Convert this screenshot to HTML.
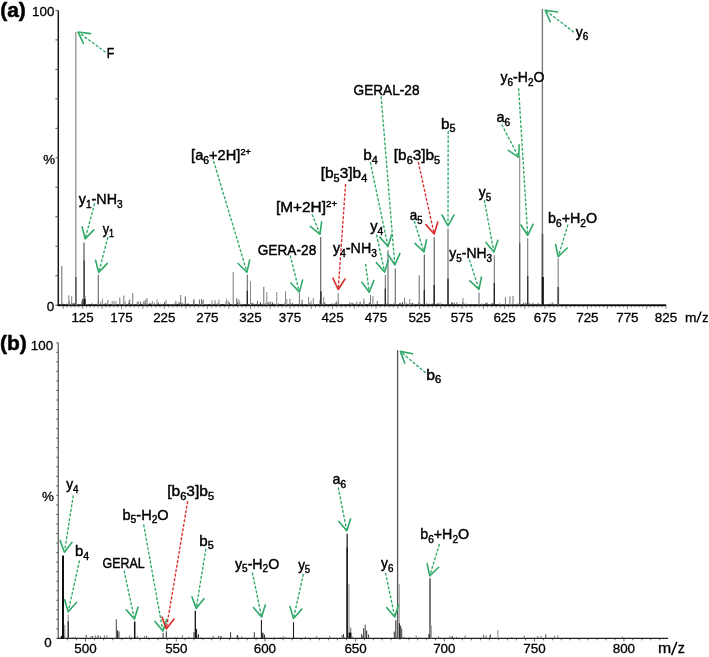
<!DOCTYPE html>
<html><head><meta charset="utf-8"><style>html,body{margin:0;padding:0;background:#fff}svg{display:block}</style></head>
<body><svg width="709" height="657" viewBox="0 0 709 657" style="font-family:'Liberation Sans',sans-serif;fill:#000;will-change:transform">
<rect width="709" height="657" fill="#fff"/>
<line x1="58.3" y1="10.4" x2="58.3" y2="305.2" stroke="#1a1a1a" stroke-width="1.5"/>
<line x1="55.4" y1="10.40" x2="58.3" y2="10.40" stroke="#555" stroke-width="1"/>
<line x1="55.4" y1="39.88" x2="58.3" y2="39.88" stroke="#555" stroke-width="1"/>
<line x1="55.4" y1="69.36" x2="58.3" y2="69.36" stroke="#555" stroke-width="1"/>
<line x1="55.4" y1="98.84" x2="58.3" y2="98.84" stroke="#555" stroke-width="1"/>
<line x1="55.4" y1="128.32" x2="58.3" y2="128.32" stroke="#555" stroke-width="1"/>
<line x1="55.4" y1="157.80" x2="58.3" y2="157.80" stroke="#555" stroke-width="1"/>
<line x1="55.4" y1="187.28" x2="58.3" y2="187.28" stroke="#555" stroke-width="1"/>
<line x1="55.4" y1="216.76" x2="58.3" y2="216.76" stroke="#555" stroke-width="1"/>
<line x1="55.4" y1="246.24" x2="58.3" y2="246.24" stroke="#555" stroke-width="1"/>
<line x1="55.4" y1="275.72" x2="58.3" y2="275.72" stroke="#555" stroke-width="1"/>
<line x1="55.4" y1="305.20" x2="58.3" y2="305.20" stroke="#555" stroke-width="1"/>
<rect x="57.599999999999994" y="304.3" width="608.60" height="1.9" fill="#0a0a0a"/>
<line x1="63.15" y1="306" x2="63.15" y2="308.80" stroke="#777" stroke-width="0.9"/>
<line x1="67.04" y1="306" x2="67.04" y2="307.50" stroke="#777" stroke-width="0.9"/>
<line x1="70.93" y1="306" x2="70.93" y2="307.50" stroke="#777" stroke-width="0.9"/>
<line x1="74.82" y1="306" x2="74.82" y2="307.50" stroke="#777" stroke-width="0.9"/>
<line x1="78.71" y1="306" x2="78.71" y2="307.50" stroke="#777" stroke-width="0.9"/>
<line x1="82.60" y1="306" x2="82.60" y2="308.80" stroke="#777" stroke-width="0.9"/>
<line x1="86.49" y1="306" x2="86.49" y2="307.50" stroke="#777" stroke-width="0.9"/>
<line x1="90.38" y1="306" x2="90.38" y2="307.50" stroke="#777" stroke-width="0.9"/>
<line x1="94.27" y1="306" x2="94.27" y2="307.50" stroke="#777" stroke-width="0.9"/>
<line x1="98.16" y1="306" x2="98.16" y2="307.50" stroke="#777" stroke-width="0.9"/>
<line x1="102.05" y1="306" x2="102.05" y2="308.80" stroke="#777" stroke-width="0.9"/>
<line x1="105.94" y1="306" x2="105.94" y2="307.50" stroke="#777" stroke-width="0.9"/>
<line x1="109.83" y1="306" x2="109.83" y2="307.50" stroke="#777" stroke-width="0.9"/>
<line x1="113.72" y1="306" x2="113.72" y2="307.50" stroke="#777" stroke-width="0.9"/>
<line x1="117.61" y1="306" x2="117.61" y2="307.50" stroke="#777" stroke-width="0.9"/>
<line x1="121.50" y1="306" x2="121.50" y2="308.80" stroke="#777" stroke-width="0.9"/>
<line x1="125.78" y1="306" x2="125.78" y2="307.50" stroke="#777" stroke-width="0.9"/>
<line x1="130.06" y1="306" x2="130.06" y2="307.50" stroke="#777" stroke-width="0.9"/>
<line x1="134.34" y1="306" x2="134.34" y2="307.50" stroke="#777" stroke-width="0.9"/>
<line x1="138.62" y1="306" x2="138.62" y2="307.50" stroke="#777" stroke-width="0.9"/>
<line x1="142.90" y1="306" x2="142.90" y2="308.80" stroke="#777" stroke-width="0.9"/>
<line x1="147.18" y1="306" x2="147.18" y2="307.50" stroke="#777" stroke-width="0.9"/>
<line x1="151.46" y1="306" x2="151.46" y2="307.50" stroke="#777" stroke-width="0.9"/>
<line x1="155.74" y1="306" x2="155.74" y2="307.50" stroke="#777" stroke-width="0.9"/>
<line x1="160.02" y1="306" x2="160.02" y2="307.50" stroke="#777" stroke-width="0.9"/>
<line x1="164.30" y1="306" x2="164.30" y2="308.80" stroke="#777" stroke-width="0.9"/>
<line x1="168.61" y1="306" x2="168.61" y2="307.50" stroke="#777" stroke-width="0.9"/>
<line x1="172.92" y1="306" x2="172.92" y2="307.50" stroke="#777" stroke-width="0.9"/>
<line x1="177.23" y1="306" x2="177.23" y2="307.50" stroke="#777" stroke-width="0.9"/>
<line x1="181.54" y1="306" x2="181.54" y2="307.50" stroke="#777" stroke-width="0.9"/>
<line x1="185.85" y1="306" x2="185.85" y2="308.80" stroke="#777" stroke-width="0.9"/>
<line x1="190.16" y1="306" x2="190.16" y2="307.50" stroke="#777" stroke-width="0.9"/>
<line x1="194.47" y1="306" x2="194.47" y2="307.50" stroke="#777" stroke-width="0.9"/>
<line x1="198.78" y1="306" x2="198.78" y2="307.50" stroke="#777" stroke-width="0.9"/>
<line x1="203.09" y1="306" x2="203.09" y2="307.50" stroke="#777" stroke-width="0.9"/>
<line x1="207.40" y1="306" x2="207.40" y2="308.80" stroke="#777" stroke-width="0.9"/>
<line x1="211.71" y1="306" x2="211.71" y2="307.50" stroke="#777" stroke-width="0.9"/>
<line x1="216.02" y1="306" x2="216.02" y2="307.50" stroke="#777" stroke-width="0.9"/>
<line x1="220.33" y1="306" x2="220.33" y2="307.50" stroke="#777" stroke-width="0.9"/>
<line x1="224.64" y1="306" x2="224.64" y2="307.50" stroke="#777" stroke-width="0.9"/>
<line x1="228.95" y1="306" x2="228.95" y2="308.80" stroke="#777" stroke-width="0.9"/>
<line x1="233.26" y1="306" x2="233.26" y2="307.50" stroke="#777" stroke-width="0.9"/>
<line x1="237.57" y1="306" x2="237.57" y2="307.50" stroke="#777" stroke-width="0.9"/>
<line x1="241.88" y1="306" x2="241.88" y2="307.50" stroke="#777" stroke-width="0.9"/>
<line x1="246.19" y1="306" x2="246.19" y2="307.50" stroke="#777" stroke-width="0.9"/>
<line x1="250.50" y1="306" x2="250.50" y2="308.80" stroke="#777" stroke-width="0.9"/>
<line x1="254.45" y1="306" x2="254.45" y2="307.50" stroke="#777" stroke-width="0.9"/>
<line x1="258.40" y1="306" x2="258.40" y2="307.50" stroke="#777" stroke-width="0.9"/>
<line x1="262.35" y1="306" x2="262.35" y2="307.50" stroke="#777" stroke-width="0.9"/>
<line x1="266.30" y1="306" x2="266.30" y2="307.50" stroke="#777" stroke-width="0.9"/>
<line x1="270.25" y1="306" x2="270.25" y2="308.80" stroke="#777" stroke-width="0.9"/>
<line x1="274.20" y1="306" x2="274.20" y2="307.50" stroke="#777" stroke-width="0.9"/>
<line x1="278.15" y1="306" x2="278.15" y2="307.50" stroke="#777" stroke-width="0.9"/>
<line x1="282.10" y1="306" x2="282.10" y2="307.50" stroke="#777" stroke-width="0.9"/>
<line x1="286.05" y1="306" x2="286.05" y2="307.50" stroke="#777" stroke-width="0.9"/>
<line x1="290.00" y1="306" x2="290.00" y2="308.80" stroke="#777" stroke-width="0.9"/>
<line x1="294.26" y1="306" x2="294.26" y2="307.50" stroke="#777" stroke-width="0.9"/>
<line x1="298.52" y1="306" x2="298.52" y2="307.50" stroke="#777" stroke-width="0.9"/>
<line x1="302.78" y1="306" x2="302.78" y2="307.50" stroke="#777" stroke-width="0.9"/>
<line x1="307.04" y1="306" x2="307.04" y2="307.50" stroke="#777" stroke-width="0.9"/>
<line x1="311.30" y1="306" x2="311.30" y2="308.80" stroke="#777" stroke-width="0.9"/>
<line x1="315.56" y1="306" x2="315.56" y2="307.50" stroke="#777" stroke-width="0.9"/>
<line x1="319.82" y1="306" x2="319.82" y2="307.50" stroke="#777" stroke-width="0.9"/>
<line x1="324.08" y1="306" x2="324.08" y2="307.50" stroke="#777" stroke-width="0.9"/>
<line x1="328.34" y1="306" x2="328.34" y2="307.50" stroke="#777" stroke-width="0.9"/>
<line x1="332.60" y1="306" x2="332.60" y2="308.80" stroke="#777" stroke-width="0.9"/>
<line x1="336.94" y1="306" x2="336.94" y2="307.50" stroke="#777" stroke-width="0.9"/>
<line x1="341.28" y1="306" x2="341.28" y2="307.50" stroke="#777" stroke-width="0.9"/>
<line x1="345.62" y1="306" x2="345.62" y2="307.50" stroke="#777" stroke-width="0.9"/>
<line x1="349.96" y1="306" x2="349.96" y2="307.50" stroke="#777" stroke-width="0.9"/>
<line x1="354.30" y1="306" x2="354.30" y2="308.80" stroke="#777" stroke-width="0.9"/>
<line x1="358.64" y1="306" x2="358.64" y2="307.50" stroke="#777" stroke-width="0.9"/>
<line x1="362.98" y1="306" x2="362.98" y2="307.50" stroke="#777" stroke-width="0.9"/>
<line x1="367.32" y1="306" x2="367.32" y2="307.50" stroke="#777" stroke-width="0.9"/>
<line x1="371.66" y1="306" x2="371.66" y2="307.50" stroke="#777" stroke-width="0.9"/>
<line x1="376.00" y1="306" x2="376.00" y2="308.80" stroke="#777" stroke-width="0.9"/>
<line x1="380.36" y1="306" x2="380.36" y2="307.50" stroke="#777" stroke-width="0.9"/>
<line x1="384.72" y1="306" x2="384.72" y2="307.50" stroke="#777" stroke-width="0.9"/>
<line x1="389.08" y1="306" x2="389.08" y2="307.50" stroke="#777" stroke-width="0.9"/>
<line x1="393.44" y1="306" x2="393.44" y2="307.50" stroke="#777" stroke-width="0.9"/>
<line x1="397.80" y1="306" x2="397.80" y2="308.80" stroke="#777" stroke-width="0.9"/>
<line x1="402.16" y1="306" x2="402.16" y2="307.50" stroke="#777" stroke-width="0.9"/>
<line x1="406.52" y1="306" x2="406.52" y2="307.50" stroke="#777" stroke-width="0.9"/>
<line x1="410.88" y1="306" x2="410.88" y2="307.50" stroke="#777" stroke-width="0.9"/>
<line x1="415.24" y1="306" x2="415.24" y2="307.50" stroke="#777" stroke-width="0.9"/>
<line x1="419.60" y1="306" x2="419.60" y2="308.80" stroke="#777" stroke-width="0.9"/>
<line x1="423.84" y1="306" x2="423.84" y2="307.50" stroke="#777" stroke-width="0.9"/>
<line x1="428.08" y1="306" x2="428.08" y2="307.50" stroke="#777" stroke-width="0.9"/>
<line x1="432.32" y1="306" x2="432.32" y2="307.50" stroke="#777" stroke-width="0.9"/>
<line x1="436.56" y1="306" x2="436.56" y2="307.50" stroke="#777" stroke-width="0.9"/>
<line x1="440.80" y1="306" x2="440.80" y2="308.80" stroke="#777" stroke-width="0.9"/>
<line x1="445.04" y1="306" x2="445.04" y2="307.50" stroke="#777" stroke-width="0.9"/>
<line x1="449.28" y1="306" x2="449.28" y2="307.50" stroke="#777" stroke-width="0.9"/>
<line x1="453.52" y1="306" x2="453.52" y2="307.50" stroke="#777" stroke-width="0.9"/>
<line x1="457.76" y1="306" x2="457.76" y2="307.50" stroke="#777" stroke-width="0.9"/>
<line x1="462.00" y1="306" x2="462.00" y2="308.80" stroke="#777" stroke-width="0.9"/>
<line x1="466.26" y1="306" x2="466.26" y2="307.50" stroke="#777" stroke-width="0.9"/>
<line x1="470.52" y1="306" x2="470.52" y2="307.50" stroke="#777" stroke-width="0.9"/>
<line x1="474.78" y1="306" x2="474.78" y2="307.50" stroke="#777" stroke-width="0.9"/>
<line x1="479.04" y1="306" x2="479.04" y2="307.50" stroke="#777" stroke-width="0.9"/>
<line x1="483.30" y1="306" x2="483.30" y2="308.80" stroke="#777" stroke-width="0.9"/>
<line x1="487.56" y1="306" x2="487.56" y2="307.50" stroke="#777" stroke-width="0.9"/>
<line x1="491.82" y1="306" x2="491.82" y2="307.50" stroke="#777" stroke-width="0.9"/>
<line x1="496.08" y1="306" x2="496.08" y2="307.50" stroke="#777" stroke-width="0.9"/>
<line x1="500.34" y1="306" x2="500.34" y2="307.50" stroke="#777" stroke-width="0.9"/>
<line x1="504.60" y1="306" x2="504.60" y2="308.80" stroke="#777" stroke-width="0.9"/>
<line x1="508.64" y1="306" x2="508.64" y2="307.50" stroke="#777" stroke-width="0.9"/>
<line x1="512.68" y1="306" x2="512.68" y2="307.50" stroke="#777" stroke-width="0.9"/>
<line x1="516.72" y1="306" x2="516.72" y2="307.50" stroke="#777" stroke-width="0.9"/>
<line x1="520.76" y1="306" x2="520.76" y2="307.50" stroke="#777" stroke-width="0.9"/>
<line x1="524.80" y1="306" x2="524.80" y2="308.80" stroke="#777" stroke-width="0.9"/>
<line x1="528.84" y1="306" x2="528.84" y2="307.50" stroke="#777" stroke-width="0.9"/>
<line x1="532.88" y1="306" x2="532.88" y2="307.50" stroke="#777" stroke-width="0.9"/>
<line x1="536.92" y1="306" x2="536.92" y2="307.50" stroke="#777" stroke-width="0.9"/>
<line x1="540.96" y1="306" x2="540.96" y2="307.50" stroke="#777" stroke-width="0.9"/>
<line x1="545.00" y1="306" x2="545.00" y2="308.80" stroke="#777" stroke-width="0.9"/>
<line x1="549.24" y1="306" x2="549.24" y2="307.50" stroke="#777" stroke-width="0.9"/>
<line x1="553.48" y1="306" x2="553.48" y2="307.50" stroke="#777" stroke-width="0.9"/>
<line x1="557.72" y1="306" x2="557.72" y2="307.50" stroke="#777" stroke-width="0.9"/>
<line x1="561.96" y1="306" x2="561.96" y2="307.50" stroke="#777" stroke-width="0.9"/>
<line x1="566.20" y1="306" x2="566.20" y2="308.80" stroke="#777" stroke-width="0.9"/>
<line x1="570.44" y1="306" x2="570.44" y2="307.50" stroke="#777" stroke-width="0.9"/>
<line x1="574.68" y1="306" x2="574.68" y2="307.50" stroke="#777" stroke-width="0.9"/>
<line x1="578.92" y1="306" x2="578.92" y2="307.50" stroke="#777" stroke-width="0.9"/>
<line x1="583.16" y1="306" x2="583.16" y2="307.50" stroke="#777" stroke-width="0.9"/>
<line x1="587.40" y1="306" x2="587.40" y2="308.80" stroke="#777" stroke-width="0.9"/>
<line x1="591.40" y1="306" x2="591.40" y2="307.50" stroke="#777" stroke-width="0.9"/>
<line x1="595.40" y1="306" x2="595.40" y2="307.50" stroke="#777" stroke-width="0.9"/>
<line x1="599.40" y1="306" x2="599.40" y2="307.50" stroke="#777" stroke-width="0.9"/>
<line x1="603.40" y1="306" x2="603.40" y2="307.50" stroke="#777" stroke-width="0.9"/>
<line x1="607.40" y1="306" x2="607.40" y2="308.80" stroke="#777" stroke-width="0.9"/>
<line x1="611.40" y1="306" x2="611.40" y2="307.50" stroke="#777" stroke-width="0.9"/>
<line x1="615.40" y1="306" x2="615.40" y2="307.50" stroke="#777" stroke-width="0.9"/>
<line x1="619.40" y1="306" x2="619.40" y2="307.50" stroke="#777" stroke-width="0.9"/>
<line x1="623.40" y1="306" x2="623.40" y2="307.50" stroke="#777" stroke-width="0.9"/>
<line x1="627.40" y1="306" x2="627.40" y2="308.80" stroke="#777" stroke-width="0.9"/>
<line x1="631.26" y1="306" x2="631.26" y2="307.50" stroke="#777" stroke-width="0.9"/>
<line x1="635.12" y1="306" x2="635.12" y2="307.50" stroke="#777" stroke-width="0.9"/>
<line x1="638.98" y1="306" x2="638.98" y2="307.50" stroke="#777" stroke-width="0.9"/>
<line x1="642.84" y1="306" x2="642.84" y2="307.50" stroke="#777" stroke-width="0.9"/>
<line x1="646.70" y1="306" x2="646.70" y2="308.80" stroke="#777" stroke-width="0.9"/>
<line x1="650.56" y1="306" x2="650.56" y2="307.50" stroke="#777" stroke-width="0.9"/>
<line x1="654.42" y1="306" x2="654.42" y2="307.50" stroke="#777" stroke-width="0.9"/>
<line x1="658.28" y1="306" x2="658.28" y2="307.50" stroke="#777" stroke-width="0.9"/>
<line x1="662.14" y1="306" x2="662.14" y2="307.50" stroke="#777" stroke-width="0.9"/>
<line x1="666.00" y1="306" x2="666.00" y2="308.80" stroke="#777" stroke-width="0.9"/>
<line x1="58.2" y1="342.8" x2="58.2" y2="638.4" stroke="#444" stroke-width="1.1"/>
<line x1="56.3" y1="342.80" x2="58.2" y2="342.80" stroke="#555" stroke-width="1"/>
<line x1="56.3" y1="352.34" x2="58.2" y2="352.34" stroke="#555" stroke-width="1"/>
<line x1="56.3" y1="361.87" x2="58.2" y2="361.87" stroke="#555" stroke-width="1"/>
<line x1="56.3" y1="371.41" x2="58.2" y2="371.41" stroke="#555" stroke-width="1"/>
<line x1="56.3" y1="380.94" x2="58.2" y2="380.94" stroke="#555" stroke-width="1"/>
<line x1="56.3" y1="390.48" x2="58.2" y2="390.48" stroke="#555" stroke-width="1"/>
<line x1="56.3" y1="400.01" x2="58.2" y2="400.01" stroke="#555" stroke-width="1"/>
<line x1="56.3" y1="409.55" x2="58.2" y2="409.55" stroke="#555" stroke-width="1"/>
<line x1="56.3" y1="419.08" x2="58.2" y2="419.08" stroke="#555" stroke-width="1"/>
<line x1="56.3" y1="428.62" x2="58.2" y2="428.62" stroke="#555" stroke-width="1"/>
<line x1="56.3" y1="438.15" x2="58.2" y2="438.15" stroke="#555" stroke-width="1"/>
<line x1="56.3" y1="447.69" x2="58.2" y2="447.69" stroke="#555" stroke-width="1"/>
<line x1="56.3" y1="457.23" x2="58.2" y2="457.23" stroke="#555" stroke-width="1"/>
<line x1="56.3" y1="466.76" x2="58.2" y2="466.76" stroke="#555" stroke-width="1"/>
<line x1="56.3" y1="476.30" x2="58.2" y2="476.30" stroke="#555" stroke-width="1"/>
<line x1="56.3" y1="485.83" x2="58.2" y2="485.83" stroke="#555" stroke-width="1"/>
<line x1="56.3" y1="495.37" x2="58.2" y2="495.37" stroke="#555" stroke-width="1"/>
<line x1="56.3" y1="504.90" x2="58.2" y2="504.90" stroke="#555" stroke-width="1"/>
<line x1="56.3" y1="514.44" x2="58.2" y2="514.44" stroke="#555" stroke-width="1"/>
<line x1="56.3" y1="523.97" x2="58.2" y2="523.97" stroke="#555" stroke-width="1"/>
<line x1="56.3" y1="533.51" x2="58.2" y2="533.51" stroke="#555" stroke-width="1"/>
<line x1="56.3" y1="543.05" x2="58.2" y2="543.05" stroke="#555" stroke-width="1"/>
<line x1="56.3" y1="552.58" x2="58.2" y2="552.58" stroke="#555" stroke-width="1"/>
<line x1="56.3" y1="562.12" x2="58.2" y2="562.12" stroke="#555" stroke-width="1"/>
<line x1="56.3" y1="571.65" x2="58.2" y2="571.65" stroke="#555" stroke-width="1"/>
<line x1="56.3" y1="581.19" x2="58.2" y2="581.19" stroke="#555" stroke-width="1"/>
<line x1="56.3" y1="590.72" x2="58.2" y2="590.72" stroke="#555" stroke-width="1"/>
<line x1="56.3" y1="600.26" x2="58.2" y2="600.26" stroke="#555" stroke-width="1"/>
<line x1="56.3" y1="609.79" x2="58.2" y2="609.79" stroke="#555" stroke-width="1"/>
<line x1="56.3" y1="619.33" x2="58.2" y2="619.33" stroke="#555" stroke-width="1"/>
<line x1="56.3" y1="628.86" x2="58.2" y2="628.86" stroke="#555" stroke-width="1"/>
<line x1="56.3" y1="638.40" x2="58.2" y2="638.40" stroke="#555" stroke-width="1"/>
<line x1="57.6" y1="638.4" x2="668.2" y2="638.4" stroke="#222" stroke-width="1.1"/>
<line x1="67.34" y1="638.9" x2="67.34" y2="640.30" stroke="#555" stroke-width="0.9"/>
<line x1="76.42" y1="638.9" x2="76.42" y2="640.30" stroke="#555" stroke-width="0.9"/>
<line x1="85.50" y1="638.9" x2="85.50" y2="641.50" stroke="#555" stroke-width="0.9"/>
<line x1="94.58" y1="638.9" x2="94.58" y2="640.30" stroke="#555" stroke-width="0.9"/>
<line x1="103.66" y1="638.9" x2="103.66" y2="640.30" stroke="#555" stroke-width="0.9"/>
<line x1="112.74" y1="638.9" x2="112.74" y2="640.30" stroke="#555" stroke-width="0.9"/>
<line x1="121.82" y1="638.9" x2="121.82" y2="640.30" stroke="#555" stroke-width="0.9"/>
<line x1="130.90" y1="638.9" x2="130.90" y2="640.30" stroke="#555" stroke-width="0.9"/>
<line x1="139.98" y1="638.9" x2="139.98" y2="640.30" stroke="#555" stroke-width="0.9"/>
<line x1="149.06" y1="638.9" x2="149.06" y2="640.30" stroke="#555" stroke-width="0.9"/>
<line x1="158.14" y1="638.9" x2="158.14" y2="640.30" stroke="#555" stroke-width="0.9"/>
<line x1="167.22" y1="638.9" x2="167.22" y2="640.30" stroke="#555" stroke-width="0.9"/>
<line x1="176.30" y1="638.9" x2="176.30" y2="641.50" stroke="#555" stroke-width="0.9"/>
<line x1="185.16" y1="638.9" x2="185.16" y2="640.30" stroke="#555" stroke-width="0.9"/>
<line x1="194.02" y1="638.9" x2="194.02" y2="640.30" stroke="#555" stroke-width="0.9"/>
<line x1="202.88" y1="638.9" x2="202.88" y2="640.30" stroke="#555" stroke-width="0.9"/>
<line x1="211.74" y1="638.9" x2="211.74" y2="640.30" stroke="#555" stroke-width="0.9"/>
<line x1="220.60" y1="638.9" x2="220.60" y2="640.30" stroke="#555" stroke-width="0.9"/>
<line x1="229.46" y1="638.9" x2="229.46" y2="640.30" stroke="#555" stroke-width="0.9"/>
<line x1="238.32" y1="638.9" x2="238.32" y2="640.30" stroke="#555" stroke-width="0.9"/>
<line x1="247.18" y1="638.9" x2="247.18" y2="640.30" stroke="#555" stroke-width="0.9"/>
<line x1="256.04" y1="638.9" x2="256.04" y2="640.30" stroke="#555" stroke-width="0.9"/>
<line x1="264.90" y1="638.9" x2="264.90" y2="641.50" stroke="#555" stroke-width="0.9"/>
<line x1="273.97" y1="638.9" x2="273.97" y2="640.30" stroke="#555" stroke-width="0.9"/>
<line x1="283.04" y1="638.9" x2="283.04" y2="640.30" stroke="#555" stroke-width="0.9"/>
<line x1="292.11" y1="638.9" x2="292.11" y2="640.30" stroke="#555" stroke-width="0.9"/>
<line x1="301.18" y1="638.9" x2="301.18" y2="640.30" stroke="#555" stroke-width="0.9"/>
<line x1="310.25" y1="638.9" x2="310.25" y2="640.30" stroke="#555" stroke-width="0.9"/>
<line x1="319.32" y1="638.9" x2="319.32" y2="640.30" stroke="#555" stroke-width="0.9"/>
<line x1="328.39" y1="638.9" x2="328.39" y2="640.30" stroke="#555" stroke-width="0.9"/>
<line x1="337.46" y1="638.9" x2="337.46" y2="640.30" stroke="#555" stroke-width="0.9"/>
<line x1="346.53" y1="638.9" x2="346.53" y2="640.30" stroke="#555" stroke-width="0.9"/>
<line x1="355.60" y1="638.9" x2="355.60" y2="641.50" stroke="#555" stroke-width="0.9"/>
<line x1="364.47" y1="638.9" x2="364.47" y2="640.30" stroke="#555" stroke-width="0.9"/>
<line x1="373.34" y1="638.9" x2="373.34" y2="640.30" stroke="#555" stroke-width="0.9"/>
<line x1="382.21" y1="638.9" x2="382.21" y2="640.30" stroke="#555" stroke-width="0.9"/>
<line x1="391.08" y1="638.9" x2="391.08" y2="640.30" stroke="#555" stroke-width="0.9"/>
<line x1="399.95" y1="638.9" x2="399.95" y2="640.30" stroke="#555" stroke-width="0.9"/>
<line x1="408.82" y1="638.9" x2="408.82" y2="640.30" stroke="#555" stroke-width="0.9"/>
<line x1="417.69" y1="638.9" x2="417.69" y2="640.30" stroke="#555" stroke-width="0.9"/>
<line x1="426.56" y1="638.9" x2="426.56" y2="640.30" stroke="#555" stroke-width="0.9"/>
<line x1="435.43" y1="638.9" x2="435.43" y2="640.30" stroke="#555" stroke-width="0.9"/>
<line x1="444.30" y1="638.9" x2="444.30" y2="641.50" stroke="#555" stroke-width="0.9"/>
<line x1="453.32" y1="638.9" x2="453.32" y2="640.30" stroke="#555" stroke-width="0.9"/>
<line x1="462.34" y1="638.9" x2="462.34" y2="640.30" stroke="#555" stroke-width="0.9"/>
<line x1="471.36" y1="638.9" x2="471.36" y2="640.30" stroke="#555" stroke-width="0.9"/>
<line x1="480.38" y1="638.9" x2="480.38" y2="640.30" stroke="#555" stroke-width="0.9"/>
<line x1="489.40" y1="638.9" x2="489.40" y2="640.30" stroke="#555" stroke-width="0.9"/>
<line x1="498.42" y1="638.9" x2="498.42" y2="640.30" stroke="#555" stroke-width="0.9"/>
<line x1="507.44" y1="638.9" x2="507.44" y2="640.30" stroke="#555" stroke-width="0.9"/>
<line x1="516.46" y1="638.9" x2="516.46" y2="640.30" stroke="#555" stroke-width="0.9"/>
<line x1="525.48" y1="638.9" x2="525.48" y2="640.30" stroke="#555" stroke-width="0.9"/>
<line x1="534.50" y1="638.9" x2="534.50" y2="641.50" stroke="#555" stroke-width="0.9"/>
<line x1="543.44" y1="638.9" x2="543.44" y2="640.30" stroke="#555" stroke-width="0.9"/>
<line x1="552.38" y1="638.9" x2="552.38" y2="640.30" stroke="#555" stroke-width="0.9"/>
<line x1="561.32" y1="638.9" x2="561.32" y2="640.30" stroke="#555" stroke-width="0.9"/>
<line x1="570.26" y1="638.9" x2="570.26" y2="640.30" stroke="#555" stroke-width="0.9"/>
<line x1="579.20" y1="638.9" x2="579.20" y2="640.30" stroke="#555" stroke-width="0.9"/>
<line x1="588.14" y1="638.9" x2="588.14" y2="640.30" stroke="#555" stroke-width="0.9"/>
<line x1="597.08" y1="638.9" x2="597.08" y2="640.30" stroke="#555" stroke-width="0.9"/>
<line x1="606.02" y1="638.9" x2="606.02" y2="640.30" stroke="#555" stroke-width="0.9"/>
<line x1="614.96" y1="638.9" x2="614.96" y2="640.30" stroke="#555" stroke-width="0.9"/>
<line x1="623.90" y1="638.9" x2="623.90" y2="641.50" stroke="#555" stroke-width="0.9"/>
<line x1="632.84" y1="638.9" x2="632.84" y2="640.30" stroke="#555" stroke-width="0.9"/>
<line x1="641.78" y1="638.9" x2="641.78" y2="640.30" stroke="#555" stroke-width="0.9"/>
<line x1="650.72" y1="638.9" x2="650.72" y2="640.30" stroke="#555" stroke-width="0.9"/>
<line x1="659.66" y1="638.9" x2="659.66" y2="640.30" stroke="#555" stroke-width="0.9"/>
<line x1="59.5" y1="304.2" x2="59.5" y2="305.2" stroke="#444" stroke-width="0.8"/>
<line x1="60.7" y1="304.3" x2="60.7" y2="305.2" stroke="#222" stroke-width="0.8"/>
<line x1="61.9" y1="304.3" x2="61.9" y2="305.2" stroke="#444" stroke-width="0.8"/>
<line x1="62.6" y1="304.1" x2="62.6" y2="305.2" stroke="#222" stroke-width="0.8"/>
<line x1="63.7" y1="303.7" x2="63.7" y2="305.2" stroke="#222" stroke-width="0.8"/>
<line x1="65.4" y1="304.3" x2="65.4" y2="305.2" stroke="#444" stroke-width="0.8"/>
<line x1="66.9" y1="303.6" x2="66.9" y2="305.2" stroke="#222" stroke-width="0.8"/>
<line x1="68.4" y1="304.2" x2="68.4" y2="305.2" stroke="#444" stroke-width="0.8"/>
<line x1="69.2" y1="301.0" x2="69.2" y2="305.2" stroke="#555" stroke-width="0.8"/>
<line x1="70.4" y1="303.8" x2="70.4" y2="305.2" stroke="#555" stroke-width="0.8"/>
<line x1="71.8" y1="303.0" x2="71.8" y2="305.2" stroke="#222" stroke-width="0.8"/>
<line x1="73.3" y1="303.3" x2="73.3" y2="305.2" stroke="#555" stroke-width="0.8"/>
<line x1="74.1" y1="302.8" x2="74.1" y2="305.2" stroke="#222" stroke-width="0.8"/>
<line x1="75.6" y1="303.9" x2="75.6" y2="305.2" stroke="#777" stroke-width="0.8"/>
<line x1="77.3" y1="304.0" x2="77.3" y2="305.2" stroke="#777" stroke-width="0.8"/>
<line x1="78.5" y1="304.3" x2="78.5" y2="305.2" stroke="#444" stroke-width="0.8"/>
<line x1="80.1" y1="304.3" x2="80.1" y2="305.2" stroke="#555" stroke-width="0.8"/>
<line x1="81.5" y1="300.8" x2="81.5" y2="305.2" stroke="#777" stroke-width="0.8"/>
<line x1="82.6" y1="298.8" x2="82.6" y2="305.2" stroke="#222" stroke-width="0.8"/>
<line x1="83.9" y1="304.3" x2="83.9" y2="305.2" stroke="#555" stroke-width="0.8"/>
<line x1="84.8" y1="304.0" x2="84.8" y2="305.2" stroke="#222" stroke-width="0.8"/>
<line x1="86.8" y1="304.3" x2="86.8" y2="305.2" stroke="#555" stroke-width="0.8"/>
<line x1="87.9" y1="304.2" x2="87.9" y2="305.2" stroke="#777" stroke-width="0.8"/>
<line x1="89.4" y1="304.0" x2="89.4" y2="305.2" stroke="#222" stroke-width="0.8"/>
<line x1="91.3" y1="304.0" x2="91.3" y2="305.2" stroke="#222" stroke-width="0.8"/>
<line x1="92.1" y1="302.8" x2="92.1" y2="305.2" stroke="#777" stroke-width="0.8"/>
<line x1="93.1" y1="304.2" x2="93.1" y2="305.2" stroke="#555" stroke-width="0.8"/>
<line x1="93.9" y1="304.0" x2="93.9" y2="305.2" stroke="#444" stroke-width="0.8"/>
<line x1="95.4" y1="303.9" x2="95.4" y2="305.2" stroke="#444" stroke-width="0.8"/>
<line x1="97.1" y1="304.3" x2="97.1" y2="305.2" stroke="#444" stroke-width="0.8"/>
<line x1="98.3" y1="300.1" x2="98.3" y2="305.2" stroke="#777" stroke-width="0.8"/>
<line x1="99.1" y1="304.1" x2="99.1" y2="305.2" stroke="#555" stroke-width="0.8"/>
<line x1="100.9" y1="301.6" x2="100.9" y2="305.2" stroke="#555" stroke-width="0.8"/>
<line x1="102.6" y1="298.6" x2="102.6" y2="305.2" stroke="#777" stroke-width="0.8"/>
<line x1="104.5" y1="304.3" x2="104.5" y2="305.2" stroke="#444" stroke-width="0.8"/>
<line x1="105.4" y1="303.2" x2="105.4" y2="305.2" stroke="#222" stroke-width="0.8"/>
<line x1="106.7" y1="303.6" x2="106.7" y2="305.2" stroke="#555" stroke-width="0.8"/>
<line x1="107.8" y1="304.3" x2="107.8" y2="305.2" stroke="#555" stroke-width="0.8"/>
<line x1="109.3" y1="304.2" x2="109.3" y2="305.2" stroke="#444" stroke-width="0.8"/>
<line x1="110.9" y1="303.9" x2="110.9" y2="305.2" stroke="#222" stroke-width="0.8"/>
<line x1="112.2" y1="300.8" x2="112.2" y2="305.2" stroke="#777" stroke-width="0.8"/>
<line x1="113.4" y1="304.2" x2="113.4" y2="305.2" stroke="#777" stroke-width="0.8"/>
<line x1="114.9" y1="304.3" x2="114.9" y2="305.2" stroke="#222" stroke-width="0.8"/>
<line x1="116.9" y1="304.1" x2="116.9" y2="305.2" stroke="#222" stroke-width="0.8"/>
<line x1="118.0" y1="304.3" x2="118.0" y2="305.2" stroke="#222" stroke-width="0.8"/>
<line x1="119.5" y1="303.8" x2="119.5" y2="305.2" stroke="#555" stroke-width="0.8"/>
<line x1="121.0" y1="304.3" x2="121.0" y2="305.2" stroke="#444" stroke-width="0.8"/>
<line x1="122.5" y1="304.3" x2="122.5" y2="305.2" stroke="#555" stroke-width="0.8"/>
<line x1="124.4" y1="303.5" x2="124.4" y2="305.2" stroke="#777" stroke-width="0.8"/>
<line x1="125.3" y1="301.2" x2="125.3" y2="305.2" stroke="#777" stroke-width="0.8"/>
<line x1="126.6" y1="304.2" x2="126.6" y2="305.2" stroke="#444" stroke-width="0.8"/>
<line x1="127.4" y1="304.2" x2="127.4" y2="305.2" stroke="#555" stroke-width="0.8"/>
<line x1="128.8" y1="302.9" x2="128.8" y2="305.2" stroke="#222" stroke-width="0.8"/>
<line x1="129.7" y1="299.4" x2="129.7" y2="305.2" stroke="#555" stroke-width="0.8"/>
<line x1="130.6" y1="303.8" x2="130.6" y2="305.2" stroke="#222" stroke-width="0.8"/>
<line x1="132.3" y1="304.3" x2="132.3" y2="305.2" stroke="#222" stroke-width="0.8"/>
<line x1="133.9" y1="304.3" x2="133.9" y2="305.2" stroke="#555" stroke-width="0.8"/>
<line x1="135.8" y1="304.2" x2="135.8" y2="305.2" stroke="#444" stroke-width="0.8"/>
<line x1="137.2" y1="302.1" x2="137.2" y2="305.2" stroke="#555" stroke-width="0.8"/>
<line x1="138.7" y1="303.5" x2="138.7" y2="305.2" stroke="#444" stroke-width="0.8"/>
<line x1="140.5" y1="301.6" x2="140.5" y2="305.2" stroke="#444" stroke-width="0.8"/>
<line x1="141.4" y1="303.9" x2="141.4" y2="305.2" stroke="#222" stroke-width="0.8"/>
<line x1="143.4" y1="302.0" x2="143.4" y2="305.2" stroke="#777" stroke-width="0.8"/>
<line x1="144.4" y1="302.9" x2="144.4" y2="305.2" stroke="#555" stroke-width="0.8"/>
<line x1="145.7" y1="299.7" x2="145.7" y2="305.2" stroke="#555" stroke-width="0.8"/>
<line x1="147.7" y1="304.2" x2="147.7" y2="305.2" stroke="#444" stroke-width="0.8"/>
<line x1="148.5" y1="304.0" x2="148.5" y2="305.2" stroke="#555" stroke-width="0.8"/>
<line x1="149.5" y1="303.4" x2="149.5" y2="305.2" stroke="#222" stroke-width="0.8"/>
<line x1="150.8" y1="303.2" x2="150.8" y2="305.2" stroke="#222" stroke-width="0.8"/>
<line x1="152.6" y1="304.3" x2="152.6" y2="305.2" stroke="#777" stroke-width="0.8"/>
<line x1="154.3" y1="302.4" x2="154.3" y2="305.2" stroke="#777" stroke-width="0.8"/>
<line x1="156.1" y1="304.1" x2="156.1" y2="305.2" stroke="#555" stroke-width="0.8"/>
<line x1="157.0" y1="299.5" x2="157.0" y2="305.2" stroke="#777" stroke-width="0.8"/>
<line x1="158.3" y1="302.5" x2="158.3" y2="305.2" stroke="#222" stroke-width="0.8"/>
<line x1="159.9" y1="304.3" x2="159.9" y2="305.2" stroke="#444" stroke-width="0.8"/>
<line x1="160.6" y1="303.6" x2="160.6" y2="305.2" stroke="#777" stroke-width="0.8"/>
<line x1="162.4" y1="304.3" x2="162.4" y2="305.2" stroke="#777" stroke-width="0.8"/>
<line x1="163.9" y1="304.2" x2="163.9" y2="305.2" stroke="#444" stroke-width="0.8"/>
<line x1="164.7" y1="301.9" x2="164.7" y2="305.2" stroke="#222" stroke-width="0.8"/>
<line x1="166.1" y1="299.7" x2="166.1" y2="305.2" stroke="#777" stroke-width="0.8"/>
<line x1="168.0" y1="304.3" x2="168.0" y2="305.2" stroke="#444" stroke-width="0.8"/>
<line x1="168.8" y1="304.3" x2="168.8" y2="305.2" stroke="#444" stroke-width="0.8"/>
<line x1="170.5" y1="304.2" x2="170.5" y2="305.2" stroke="#777" stroke-width="0.8"/>
<line x1="172.2" y1="304.3" x2="172.2" y2="305.2" stroke="#555" stroke-width="0.8"/>
<line x1="174.1" y1="303.1" x2="174.1" y2="305.2" stroke="#777" stroke-width="0.8"/>
<line x1="175.9" y1="300.7" x2="175.9" y2="305.2" stroke="#444" stroke-width="0.8"/>
<line x1="177.3" y1="303.8" x2="177.3" y2="305.2" stroke="#222" stroke-width="0.8"/>
<line x1="179.1" y1="302.1" x2="179.1" y2="305.2" stroke="#222" stroke-width="0.8"/>
<line x1="180.8" y1="304.3" x2="180.8" y2="305.2" stroke="#444" stroke-width="0.8"/>
<line x1="182.1" y1="302.6" x2="182.1" y2="305.2" stroke="#222" stroke-width="0.8"/>
<line x1="183.3" y1="303.9" x2="183.3" y2="305.2" stroke="#777" stroke-width="0.8"/>
<line x1="185.0" y1="304.3" x2="185.0" y2="305.2" stroke="#222" stroke-width="0.8"/>
<line x1="186.0" y1="304.3" x2="186.0" y2="305.2" stroke="#222" stroke-width="0.8"/>
<line x1="187.4" y1="303.7" x2="187.4" y2="305.2" stroke="#222" stroke-width="0.8"/>
<line x1="188.6" y1="303.5" x2="188.6" y2="305.2" stroke="#444" stroke-width="0.8"/>
<line x1="190.2" y1="304.0" x2="190.2" y2="305.2" stroke="#777" stroke-width="0.8"/>
<line x1="191.6" y1="304.3" x2="191.6" y2="305.2" stroke="#555" stroke-width="0.8"/>
<line x1="193.5" y1="300.5" x2="193.5" y2="305.2" stroke="#444" stroke-width="0.8"/>
<line x1="195.3" y1="304.3" x2="195.3" y2="305.2" stroke="#222" stroke-width="0.8"/>
<line x1="196.5" y1="304.2" x2="196.5" y2="305.2" stroke="#444" stroke-width="0.8"/>
<line x1="197.8" y1="304.3" x2="197.8" y2="305.2" stroke="#555" stroke-width="0.8"/>
<line x1="199.5" y1="300.4" x2="199.5" y2="305.2" stroke="#444" stroke-width="0.8"/>
<line x1="201.4" y1="303.3" x2="201.4" y2="305.2" stroke="#555" stroke-width="0.8"/>
<line x1="202.3" y1="300.7" x2="202.3" y2="305.2" stroke="#777" stroke-width="0.8"/>
<line x1="203.3" y1="299.4" x2="203.3" y2="305.2" stroke="#777" stroke-width="0.8"/>
<line x1="205.1" y1="304.3" x2="205.1" y2="305.2" stroke="#444" stroke-width="0.8"/>
<line x1="206.0" y1="304.1" x2="206.0" y2="305.2" stroke="#777" stroke-width="0.8"/>
<line x1="207.2" y1="304.3" x2="207.2" y2="305.2" stroke="#555" stroke-width="0.8"/>
<line x1="208.0" y1="304.2" x2="208.0" y2="305.2" stroke="#555" stroke-width="0.8"/>
<line x1="209.4" y1="304.1" x2="209.4" y2="305.2" stroke="#222" stroke-width="0.8"/>
<line x1="210.6" y1="303.9" x2="210.6" y2="305.2" stroke="#555" stroke-width="0.8"/>
<line x1="212.0" y1="304.3" x2="212.0" y2="305.2" stroke="#444" stroke-width="0.8"/>
<line x1="213.9" y1="304.3" x2="213.9" y2="305.2" stroke="#555" stroke-width="0.8"/>
<line x1="215.0" y1="300.3" x2="215.0" y2="305.2" stroke="#444" stroke-width="0.8"/>
<line x1="216.0" y1="304.3" x2="216.0" y2="305.2" stroke="#777" stroke-width="0.8"/>
<line x1="217.9" y1="303.0" x2="217.9" y2="305.2" stroke="#555" stroke-width="0.8"/>
<line x1="219.1" y1="303.8" x2="219.1" y2="305.2" stroke="#777" stroke-width="0.8"/>
<line x1="220.7" y1="304.3" x2="220.7" y2="305.2" stroke="#222" stroke-width="0.8"/>
<line x1="222.4" y1="304.3" x2="222.4" y2="305.2" stroke="#222" stroke-width="0.8"/>
<line x1="223.5" y1="304.3" x2="223.5" y2="305.2" stroke="#222" stroke-width="0.8"/>
<line x1="225.2" y1="304.3" x2="225.2" y2="305.2" stroke="#444" stroke-width="0.8"/>
<line x1="226.0" y1="301.0" x2="226.0" y2="305.2" stroke="#777" stroke-width="0.8"/>
<line x1="226.7" y1="298.4" x2="226.7" y2="305.2" stroke="#777" stroke-width="0.8"/>
<line x1="228.6" y1="304.3" x2="228.6" y2="305.2" stroke="#444" stroke-width="0.8"/>
<line x1="229.4" y1="302.8" x2="229.4" y2="305.2" stroke="#222" stroke-width="0.8"/>
<line x1="231.3" y1="304.3" x2="231.3" y2="305.2" stroke="#444" stroke-width="0.8"/>
<line x1="232.3" y1="304.2" x2="232.3" y2="305.2" stroke="#555" stroke-width="0.8"/>
<line x1="233.7" y1="304.3" x2="233.7" y2="305.2" stroke="#777" stroke-width="0.8"/>
<line x1="235.0" y1="304.3" x2="235.0" y2="305.2" stroke="#555" stroke-width="0.8"/>
<line x1="236.8" y1="298.4" x2="236.8" y2="305.2" stroke="#222" stroke-width="0.8"/>
<line x1="237.5" y1="302.6" x2="237.5" y2="305.2" stroke="#444" stroke-width="0.8"/>
<line x1="238.9" y1="304.3" x2="238.9" y2="305.2" stroke="#777" stroke-width="0.8"/>
<line x1="239.7" y1="301.6" x2="239.7" y2="305.2" stroke="#777" stroke-width="0.8"/>
<line x1="241.3" y1="303.8" x2="241.3" y2="305.2" stroke="#777" stroke-width="0.8"/>
<line x1="243.2" y1="304.2" x2="243.2" y2="305.2" stroke="#444" stroke-width="0.8"/>
<line x1="245.2" y1="304.2" x2="245.2" y2="305.2" stroke="#444" stroke-width="0.8"/>
<line x1="246.4" y1="304.2" x2="246.4" y2="305.2" stroke="#222" stroke-width="0.8"/>
<line x1="248.2" y1="304.3" x2="248.2" y2="305.2" stroke="#555" stroke-width="0.8"/>
<line x1="249.5" y1="304.3" x2="249.5" y2="305.2" stroke="#777" stroke-width="0.8"/>
<line x1="251.3" y1="303.1" x2="251.3" y2="305.2" stroke="#555" stroke-width="0.8"/>
<line x1="252.8" y1="302.9" x2="252.8" y2="305.2" stroke="#222" stroke-width="0.8"/>
<line x1="254.1" y1="304.3" x2="254.1" y2="305.2" stroke="#777" stroke-width="0.8"/>
<line x1="254.8" y1="304.2" x2="254.8" y2="305.2" stroke="#555" stroke-width="0.8"/>
<line x1="256.8" y1="303.8" x2="256.8" y2="305.2" stroke="#444" stroke-width="0.8"/>
<line x1="257.5" y1="300.7" x2="257.5" y2="305.2" stroke="#444" stroke-width="0.8"/>
<line x1="258.7" y1="304.3" x2="258.7" y2="305.2" stroke="#777" stroke-width="0.8"/>
<line x1="259.5" y1="304.3" x2="259.5" y2="305.2" stroke="#444" stroke-width="0.8"/>
<line x1="260.5" y1="302.1" x2="260.5" y2="305.2" stroke="#222" stroke-width="0.8"/>
<line x1="261.5" y1="304.3" x2="261.5" y2="305.2" stroke="#777" stroke-width="0.8"/>
<line x1="263.0" y1="304.2" x2="263.0" y2="305.2" stroke="#555" stroke-width="0.8"/>
<line x1="264.1" y1="304.3" x2="264.1" y2="305.2" stroke="#444" stroke-width="0.8"/>
<line x1="265.7" y1="302.7" x2="265.7" y2="305.2" stroke="#777" stroke-width="0.8"/>
<line x1="267.4" y1="302.7" x2="267.4" y2="305.2" stroke="#777" stroke-width="0.8"/>
<line x1="268.2" y1="302.7" x2="268.2" y2="305.2" stroke="#444" stroke-width="0.8"/>
<line x1="269.0" y1="301.4" x2="269.0" y2="305.2" stroke="#777" stroke-width="0.8"/>
<line x1="270.7" y1="301.7" x2="270.7" y2="305.2" stroke="#444" stroke-width="0.8"/>
<line x1="272.5" y1="302.4" x2="272.5" y2="305.2" stroke="#222" stroke-width="0.8"/>
<line x1="274.3" y1="303.6" x2="274.3" y2="305.2" stroke="#444" stroke-width="0.8"/>
<line x1="275.1" y1="304.3" x2="275.1" y2="305.2" stroke="#555" stroke-width="0.8"/>
<line x1="277.1" y1="304.2" x2="277.1" y2="305.2" stroke="#777" stroke-width="0.8"/>
<line x1="278.5" y1="303.4" x2="278.5" y2="305.2" stroke="#444" stroke-width="0.8"/>
<line x1="279.8" y1="304.3" x2="279.8" y2="305.2" stroke="#222" stroke-width="0.8"/>
<line x1="281.5" y1="303.9" x2="281.5" y2="305.2" stroke="#222" stroke-width="0.8"/>
<line x1="283.1" y1="304.3" x2="283.1" y2="305.2" stroke="#777" stroke-width="0.8"/>
<line x1="284.1" y1="304.3" x2="284.1" y2="305.2" stroke="#555" stroke-width="0.8"/>
<line x1="285.1" y1="302.3" x2="285.1" y2="305.2" stroke="#444" stroke-width="0.8"/>
<line x1="286.8" y1="298.9" x2="286.8" y2="305.2" stroke="#777" stroke-width="0.8"/>
<line x1="288.6" y1="304.3" x2="288.6" y2="305.2" stroke="#555" stroke-width="0.8"/>
<line x1="290.3" y1="303.4" x2="290.3" y2="305.2" stroke="#444" stroke-width="0.8"/>
<line x1="291.1" y1="304.3" x2="291.1" y2="305.2" stroke="#555" stroke-width="0.8"/>
<line x1="292.6" y1="302.9" x2="292.6" y2="305.2" stroke="#444" stroke-width="0.8"/>
<line x1="293.3" y1="304.3" x2="293.3" y2="305.2" stroke="#555" stroke-width="0.8"/>
<line x1="295.3" y1="304.3" x2="295.3" y2="305.2" stroke="#444" stroke-width="0.8"/>
<line x1="296.9" y1="304.3" x2="296.9" y2="305.2" stroke="#555" stroke-width="0.8"/>
<line x1="298.2" y1="304.0" x2="298.2" y2="305.2" stroke="#222" stroke-width="0.8"/>
<line x1="300.2" y1="303.8" x2="300.2" y2="305.2" stroke="#555" stroke-width="0.8"/>
<line x1="302.1" y1="299.7" x2="302.1" y2="305.2" stroke="#222" stroke-width="0.8"/>
<line x1="303.2" y1="304.3" x2="303.2" y2="305.2" stroke="#777" stroke-width="0.8"/>
<line x1="305.2" y1="304.2" x2="305.2" y2="305.2" stroke="#444" stroke-width="0.8"/>
<line x1="306.0" y1="304.3" x2="306.0" y2="305.2" stroke="#555" stroke-width="0.8"/>
<line x1="307.9" y1="304.3" x2="307.9" y2="305.2" stroke="#555" stroke-width="0.8"/>
<line x1="309.8" y1="302.8" x2="309.8" y2="305.2" stroke="#444" stroke-width="0.8"/>
<line x1="311.1" y1="300.8" x2="311.1" y2="305.2" stroke="#777" stroke-width="0.8"/>
<line x1="311.9" y1="304.3" x2="311.9" y2="305.2" stroke="#777" stroke-width="0.8"/>
<line x1="313.5" y1="304.1" x2="313.5" y2="305.2" stroke="#444" stroke-width="0.8"/>
<line x1="314.7" y1="304.2" x2="314.7" y2="305.2" stroke="#222" stroke-width="0.8"/>
<line x1="316.5" y1="304.3" x2="316.5" y2="305.2" stroke="#555" stroke-width="0.8"/>
<line x1="318.3" y1="304.3" x2="318.3" y2="305.2" stroke="#444" stroke-width="0.8"/>
<line x1="319.9" y1="300.3" x2="319.9" y2="305.2" stroke="#555" stroke-width="0.8"/>
<line x1="320.9" y1="304.3" x2="320.9" y2="305.2" stroke="#777" stroke-width="0.8"/>
<line x1="322.9" y1="303.6" x2="322.9" y2="305.2" stroke="#555" stroke-width="0.8"/>
<line x1="324.8" y1="302.3" x2="324.8" y2="305.2" stroke="#222" stroke-width="0.8"/>
<line x1="325.9" y1="304.3" x2="325.9" y2="305.2" stroke="#555" stroke-width="0.8"/>
<line x1="327.4" y1="304.3" x2="327.4" y2="305.2" stroke="#555" stroke-width="0.8"/>
<line x1="328.7" y1="304.2" x2="328.7" y2="305.2" stroke="#555" stroke-width="0.8"/>
<line x1="330.4" y1="304.1" x2="330.4" y2="305.2" stroke="#222" stroke-width="0.8"/>
<line x1="332.2" y1="303.4" x2="332.2" y2="305.2" stroke="#444" stroke-width="0.8"/>
<line x1="333.8" y1="304.4" x2="333.8" y2="305.2" stroke="#777" stroke-width="0.8"/>
<line x1="335.1" y1="302.7" x2="335.1" y2="305.2" stroke="#555" stroke-width="0.8"/>
<line x1="336.4" y1="301.4" x2="336.4" y2="305.2" stroke="#444" stroke-width="0.8"/>
<line x1="337.3" y1="304.1" x2="337.3" y2="305.2" stroke="#555" stroke-width="0.8"/>
<line x1="338.4" y1="302.8" x2="338.4" y2="305.2" stroke="#555" stroke-width="0.8"/>
<line x1="339.7" y1="304.3" x2="339.7" y2="305.2" stroke="#777" stroke-width="0.8"/>
<line x1="341.1" y1="304.2" x2="341.1" y2="305.2" stroke="#444" stroke-width="0.8"/>
<line x1="342.6" y1="304.4" x2="342.6" y2="305.2" stroke="#777" stroke-width="0.8"/>
<line x1="344.0" y1="304.0" x2="344.0" y2="305.2" stroke="#555" stroke-width="0.8"/>
<line x1="346.0" y1="304.0" x2="346.0" y2="305.2" stroke="#444" stroke-width="0.8"/>
<line x1="347.4" y1="304.3" x2="347.4" y2="305.2" stroke="#444" stroke-width="0.8"/>
<line x1="348.6" y1="304.4" x2="348.6" y2="305.2" stroke="#444" stroke-width="0.8"/>
<line x1="349.8" y1="302.3" x2="349.8" y2="305.2" stroke="#444" stroke-width="0.8"/>
<line x1="351.6" y1="302.7" x2="351.6" y2="305.2" stroke="#777" stroke-width="0.8"/>
<line x1="352.8" y1="302.7" x2="352.8" y2="305.2" stroke="#444" stroke-width="0.8"/>
<line x1="354.0" y1="304.2" x2="354.0" y2="305.2" stroke="#222" stroke-width="0.8"/>
<line x1="355.4" y1="303.6" x2="355.4" y2="305.2" stroke="#555" stroke-width="0.8"/>
<line x1="356.2" y1="303.9" x2="356.2" y2="305.2" stroke="#444" stroke-width="0.8"/>
<line x1="357.0" y1="301.5" x2="357.0" y2="305.2" stroke="#777" stroke-width="0.8"/>
<line x1="358.3" y1="304.0" x2="358.3" y2="305.2" stroke="#555" stroke-width="0.8"/>
<line x1="360.1" y1="301.7" x2="360.1" y2="305.2" stroke="#222" stroke-width="0.8"/>
<line x1="360.9" y1="304.1" x2="360.9" y2="305.2" stroke="#777" stroke-width="0.8"/>
<line x1="362.9" y1="303.9" x2="362.9" y2="305.2" stroke="#222" stroke-width="0.8"/>
<line x1="364.1" y1="301.2" x2="364.1" y2="305.2" stroke="#777" stroke-width="0.8"/>
<line x1="366.1" y1="304.3" x2="366.1" y2="305.2" stroke="#222" stroke-width="0.8"/>
<line x1="367.0" y1="304.4" x2="367.0" y2="305.2" stroke="#222" stroke-width="0.8"/>
<line x1="369.0" y1="302.9" x2="369.0" y2="305.2" stroke="#777" stroke-width="0.8"/>
<line x1="369.8" y1="302.5" x2="369.8" y2="305.2" stroke="#222" stroke-width="0.8"/>
<line x1="371.5" y1="304.3" x2="371.5" y2="305.2" stroke="#222" stroke-width="0.8"/>
<line x1="373.0" y1="304.3" x2="373.0" y2="305.2" stroke="#444" stroke-width="0.8"/>
<line x1="374.6" y1="303.8" x2="374.6" y2="305.2" stroke="#777" stroke-width="0.8"/>
<line x1="376.2" y1="304.4" x2="376.2" y2="305.2" stroke="#222" stroke-width="0.8"/>
<line x1="377.3" y1="301.0" x2="377.3" y2="305.2" stroke="#444" stroke-width="0.8"/>
<line x1="378.5" y1="304.4" x2="378.5" y2="305.2" stroke="#222" stroke-width="0.8"/>
<line x1="379.2" y1="304.3" x2="379.2" y2="305.2" stroke="#777" stroke-width="0.8"/>
<line x1="380.2" y1="304.3" x2="380.2" y2="305.2" stroke="#444" stroke-width="0.8"/>
<line x1="381.6" y1="304.3" x2="381.6" y2="305.2" stroke="#444" stroke-width="0.8"/>
<line x1="382.3" y1="304.1" x2="382.3" y2="305.2" stroke="#555" stroke-width="0.8"/>
<line x1="383.1" y1="304.4" x2="383.1" y2="305.2" stroke="#777" stroke-width="0.8"/>
<line x1="383.9" y1="304.4" x2="383.9" y2="305.2" stroke="#777" stroke-width="0.8"/>
<line x1="385.8" y1="304.4" x2="385.8" y2="305.2" stroke="#222" stroke-width="0.8"/>
<line x1="387.4" y1="302.9" x2="387.4" y2="305.2" stroke="#555" stroke-width="0.8"/>
<line x1="389.0" y1="304.4" x2="389.0" y2="305.2" stroke="#555" stroke-width="0.8"/>
<line x1="390.6" y1="303.9" x2="390.6" y2="305.2" stroke="#444" stroke-width="0.8"/>
<line x1="392.0" y1="304.4" x2="392.0" y2="305.2" stroke="#444" stroke-width="0.8"/>
<line x1="393.0" y1="304.4" x2="393.0" y2="305.2" stroke="#555" stroke-width="0.8"/>
<line x1="393.8" y1="303.4" x2="393.8" y2="305.2" stroke="#444" stroke-width="0.8"/>
<line x1="395.7" y1="303.9" x2="395.7" y2="305.2" stroke="#222" stroke-width="0.8"/>
<line x1="397.6" y1="304.4" x2="397.6" y2="305.2" stroke="#777" stroke-width="0.8"/>
<line x1="398.4" y1="304.4" x2="398.4" y2="305.2" stroke="#444" stroke-width="0.8"/>
<line x1="399.6" y1="303.0" x2="399.6" y2="305.2" stroke="#444" stroke-width="0.8"/>
<line x1="400.8" y1="302.8" x2="400.8" y2="305.2" stroke="#555" stroke-width="0.8"/>
<line x1="402.5" y1="302.1" x2="402.5" y2="305.2" stroke="#444" stroke-width="0.8"/>
<line x1="403.6" y1="304.6" x2="403.6" y2="305.2" stroke="#777" stroke-width="0.8"/>
<line x1="404.4" y1="303.9" x2="404.4" y2="305.2" stroke="#777" stroke-width="0.8"/>
<line x1="406.1" y1="302.2" x2="406.1" y2="305.2" stroke="#777" stroke-width="0.8"/>
<line x1="407.1" y1="304.6" x2="407.1" y2="305.2" stroke="#555" stroke-width="0.8"/>
<line x1="407.9" y1="304.4" x2="407.9" y2="305.2" stroke="#222" stroke-width="0.8"/>
<line x1="409.3" y1="303.5" x2="409.3" y2="305.2" stroke="#777" stroke-width="0.8"/>
<line x1="410.5" y1="303.2" x2="410.5" y2="305.2" stroke="#777" stroke-width="0.8"/>
<line x1="411.3" y1="303.7" x2="411.3" y2="305.2" stroke="#444" stroke-width="0.8"/>
<line x1="412.5" y1="302.7" x2="412.5" y2="305.2" stroke="#444" stroke-width="0.8"/>
<line x1="413.6" y1="303.6" x2="413.6" y2="305.2" stroke="#777" stroke-width="0.8"/>
<line x1="414.3" y1="304.4" x2="414.3" y2="305.2" stroke="#777" stroke-width="0.8"/>
<line x1="415.1" y1="304.6" x2="415.1" y2="305.2" stroke="#222" stroke-width="0.8"/>
<line x1="416.8" y1="304.6" x2="416.8" y2="305.2" stroke="#444" stroke-width="0.8"/>
<line x1="418.5" y1="302.8" x2="418.5" y2="305.2" stroke="#555" stroke-width="0.8"/>
<line x1="419.7" y1="304.5" x2="419.7" y2="305.2" stroke="#222" stroke-width="0.8"/>
<line x1="420.7" y1="303.7" x2="420.7" y2="305.2" stroke="#555" stroke-width="0.8"/>
<line x1="422.6" y1="304.5" x2="422.6" y2="305.2" stroke="#222" stroke-width="0.8"/>
<line x1="423.3" y1="304.6" x2="423.3" y2="305.2" stroke="#777" stroke-width="0.8"/>
<line x1="425.0" y1="304.3" x2="425.0" y2="305.2" stroke="#777" stroke-width="0.8"/>
<line x1="426.7" y1="302.7" x2="426.7" y2="305.2" stroke="#777" stroke-width="0.8"/>
<line x1="427.6" y1="304.3" x2="427.6" y2="305.2" stroke="#222" stroke-width="0.8"/>
<line x1="429.3" y1="303.6" x2="429.3" y2="305.2" stroke="#444" stroke-width="0.8"/>
<line x1="430.8" y1="304.5" x2="430.8" y2="305.2" stroke="#555" stroke-width="0.8"/>
<line x1="432.1" y1="303.4" x2="432.1" y2="305.2" stroke="#222" stroke-width="0.8"/>
<line x1="433.5" y1="304.4" x2="433.5" y2="305.2" stroke="#444" stroke-width="0.8"/>
<line x1="434.5" y1="304.6" x2="434.5" y2="305.2" stroke="#222" stroke-width="0.8"/>
<line x1="435.8" y1="304.2" x2="435.8" y2="305.2" stroke="#444" stroke-width="0.8"/>
<line x1="437.8" y1="302.9" x2="437.8" y2="305.2" stroke="#222" stroke-width="0.8"/>
<line x1="438.8" y1="304.6" x2="438.8" y2="305.2" stroke="#222" stroke-width="0.8"/>
<line x1="440.1" y1="302.2" x2="440.1" y2="305.2" stroke="#777" stroke-width="0.8"/>
<line x1="441.0" y1="304.6" x2="441.0" y2="305.2" stroke="#777" stroke-width="0.8"/>
<line x1="442.5" y1="303.8" x2="442.5" y2="305.2" stroke="#222" stroke-width="0.8"/>
<line x1="444.2" y1="304.5" x2="444.2" y2="305.2" stroke="#555" stroke-width="0.8"/>
<line x1="445.7" y1="304.5" x2="445.7" y2="305.2" stroke="#555" stroke-width="0.8"/>
<line x1="446.6" y1="304.6" x2="446.6" y2="305.2" stroke="#444" stroke-width="0.8"/>
<line x1="447.6" y1="304.5" x2="447.6" y2="305.2" stroke="#444" stroke-width="0.8"/>
<line x1="448.7" y1="304.4" x2="448.7" y2="305.2" stroke="#444" stroke-width="0.8"/>
<line x1="450.1" y1="304.6" x2="450.1" y2="305.2" stroke="#222" stroke-width="0.8"/>
<line x1="451.7" y1="302.2" x2="451.7" y2="305.2" stroke="#222" stroke-width="0.8"/>
<line x1="452.4" y1="302.9" x2="452.4" y2="305.2" stroke="#444" stroke-width="0.8"/>
<line x1="454.2" y1="302.7" x2="454.2" y2="305.2" stroke="#222" stroke-width="0.8"/>
<line x1="456.0" y1="304.6" x2="456.0" y2="305.2" stroke="#222" stroke-width="0.8"/>
<line x1="456.9" y1="302.3" x2="456.9" y2="305.2" stroke="#444" stroke-width="0.8"/>
<line x1="458.8" y1="304.5" x2="458.8" y2="305.2" stroke="#444" stroke-width="0.8"/>
<line x1="460.1" y1="304.6" x2="460.1" y2="305.2" stroke="#222" stroke-width="0.8"/>
<line x1="461.0" y1="304.1" x2="461.0" y2="305.2" stroke="#555" stroke-width="0.8"/>
<line x1="462.0" y1="304.5" x2="462.0" y2="305.2" stroke="#444" stroke-width="0.8"/>
<line x1="462.7" y1="302.1" x2="462.7" y2="305.2" stroke="#222" stroke-width="0.8"/>
<line x1="464.2" y1="303.9" x2="464.2" y2="305.2" stroke="#444" stroke-width="0.8"/>
<line x1="465.9" y1="303.2" x2="465.9" y2="305.2" stroke="#777" stroke-width="0.8"/>
<line x1="467.5" y1="304.6" x2="467.5" y2="305.2" stroke="#555" stroke-width="0.8"/>
<line x1="468.3" y1="304.6" x2="468.3" y2="305.2" stroke="#777" stroke-width="0.8"/>
<line x1="469.7" y1="304.6" x2="469.7" y2="305.2" stroke="#222" stroke-width="0.8"/>
<line x1="471.5" y1="303.9" x2="471.5" y2="305.2" stroke="#444" stroke-width="0.8"/>
<line x1="473.0" y1="304.6" x2="473.0" y2="305.2" stroke="#444" stroke-width="0.8"/>
<line x1="474.2" y1="304.6" x2="474.2" y2="305.2" stroke="#555" stroke-width="0.8"/>
<line x1="475.8" y1="304.4" x2="475.8" y2="305.2" stroke="#222" stroke-width="0.8"/>
<line x1="476.9" y1="304.1" x2="476.9" y2="305.2" stroke="#555" stroke-width="0.8"/>
<line x1="478.1" y1="304.6" x2="478.1" y2="305.2" stroke="#555" stroke-width="0.8"/>
<line x1="479.7" y1="304.5" x2="479.7" y2="305.2" stroke="#777" stroke-width="0.8"/>
<line x1="480.6" y1="304.6" x2="480.6" y2="305.2" stroke="#444" stroke-width="0.8"/>
<line x1="481.9" y1="303.2" x2="481.9" y2="305.2" stroke="#777" stroke-width="0.8"/>
<line x1="483.3" y1="304.5" x2="483.3" y2="305.2" stroke="#444" stroke-width="0.8"/>
<line x1="484.2" y1="304.6" x2="484.2" y2="305.2" stroke="#444" stroke-width="0.8"/>
<line x1="485.7" y1="302.7" x2="485.7" y2="305.2" stroke="#222" stroke-width="0.8"/>
<line x1="487.2" y1="302.6" x2="487.2" y2="305.2" stroke="#444" stroke-width="0.8"/>
<line x1="488.1" y1="304.5" x2="488.1" y2="305.2" stroke="#444" stroke-width="0.8"/>
<line x1="490.0" y1="304.6" x2="490.0" y2="305.2" stroke="#777" stroke-width="0.8"/>
<line x1="491.7" y1="303.4" x2="491.7" y2="305.2" stroke="#444" stroke-width="0.8"/>
<line x1="492.8" y1="303.1" x2="492.8" y2="305.2" stroke="#222" stroke-width="0.8"/>
<line x1="494.7" y1="304.3" x2="494.7" y2="305.2" stroke="#222" stroke-width="0.8"/>
<line x1="496.2" y1="304.0" x2="496.2" y2="305.2" stroke="#222" stroke-width="0.8"/>
<line x1="498.1" y1="304.0" x2="498.1" y2="305.2" stroke="#444" stroke-width="0.8"/>
<line x1="499.6" y1="303.0" x2="499.6" y2="305.2" stroke="#777" stroke-width="0.8"/>
<line x1="501.1" y1="304.6" x2="501.1" y2="305.2" stroke="#777" stroke-width="0.8"/>
<line x1="502.1" y1="304.6" x2="502.1" y2="305.2" stroke="#777" stroke-width="0.8"/>
<line x1="504.0" y1="304.6" x2="504.0" y2="305.2" stroke="#555" stroke-width="0.8"/>
<line x1="504.8" y1="304.6" x2="504.8" y2="305.2" stroke="#444" stroke-width="0.8"/>
<line x1="505.6" y1="304.2" x2="505.6" y2="305.2" stroke="#222" stroke-width="0.8"/>
<line x1="507.2" y1="304.5" x2="507.2" y2="305.2" stroke="#777" stroke-width="0.8"/>
<line x1="508.6" y1="304.2" x2="508.6" y2="305.2" stroke="#555" stroke-width="0.8"/>
<line x1="510.2" y1="304.5" x2="510.2" y2="305.2" stroke="#444" stroke-width="0.8"/>
<line x1="511.4" y1="303.9" x2="511.4" y2="305.2" stroke="#777" stroke-width="0.8"/>
<line x1="512.8" y1="304.6" x2="512.8" y2="305.2" stroke="#222" stroke-width="0.8"/>
<line x1="514.3" y1="304.3" x2="514.3" y2="305.2" stroke="#444" stroke-width="0.8"/>
<line x1="515.6" y1="304.0" x2="515.6" y2="305.2" stroke="#777" stroke-width="0.8"/>
<line x1="517.4" y1="303.3" x2="517.4" y2="305.2" stroke="#777" stroke-width="0.8"/>
<line x1="518.2" y1="304.6" x2="518.2" y2="305.2" stroke="#777" stroke-width="0.8"/>
<line x1="519.4" y1="303.3" x2="519.4" y2="305.2" stroke="#222" stroke-width="0.8"/>
<line x1="520.1" y1="304.6" x2="520.1" y2="305.2" stroke="#555" stroke-width="0.8"/>
<line x1="521.8" y1="304.3" x2="521.8" y2="305.2" stroke="#222" stroke-width="0.8"/>
<line x1="523.5" y1="302.8" x2="523.5" y2="305.2" stroke="#444" stroke-width="0.8"/>
<line x1="524.3" y1="304.6" x2="524.3" y2="305.2" stroke="#222" stroke-width="0.8"/>
<line x1="525.2" y1="302.2" x2="525.2" y2="305.2" stroke="#777" stroke-width="0.8"/>
<line x1="526.3" y1="303.3" x2="526.3" y2="305.2" stroke="#444" stroke-width="0.8"/>
<line x1="527.9" y1="303.7" x2="527.9" y2="305.2" stroke="#444" stroke-width="0.8"/>
<line x1="528.7" y1="304.5" x2="528.7" y2="305.2" stroke="#555" stroke-width="0.8"/>
<line x1="529.6" y1="302.8" x2="529.6" y2="305.2" stroke="#555" stroke-width="0.8"/>
<line x1="531.4" y1="304.4" x2="531.4" y2="305.2" stroke="#555" stroke-width="0.8"/>
<line x1="532.8" y1="302.7" x2="532.8" y2="305.2" stroke="#444" stroke-width="0.8"/>
<line x1="534.3" y1="304.0" x2="534.3" y2="305.2" stroke="#444" stroke-width="0.8"/>
<line x1="535.4" y1="304.6" x2="535.4" y2="305.2" stroke="#444" stroke-width="0.8"/>
<line x1="536.6" y1="304.0" x2="536.6" y2="305.2" stroke="#555" stroke-width="0.8"/>
<line x1="538.2" y1="302.8" x2="538.2" y2="305.2" stroke="#444" stroke-width="0.8"/>
<line x1="539.9" y1="304.6" x2="539.9" y2="305.2" stroke="#222" stroke-width="0.8"/>
<line x1="541.4" y1="304.5" x2="541.4" y2="305.2" stroke="#777" stroke-width="0.8"/>
<line x1="542.9" y1="304.1" x2="542.9" y2="305.2" stroke="#222" stroke-width="0.8"/>
<line x1="543.9" y1="304.2" x2="543.9" y2="305.2" stroke="#777" stroke-width="0.8"/>
<line x1="545.5" y1="304.5" x2="545.5" y2="305.2" stroke="#777" stroke-width="0.8"/>
<line x1="547.5" y1="304.1" x2="547.5" y2="305.2" stroke="#555" stroke-width="0.8"/>
<line x1="548.7" y1="304.6" x2="548.7" y2="305.2" stroke="#444" stroke-width="0.8"/>
<line x1="549.6" y1="303.6" x2="549.6" y2="305.2" stroke="#222" stroke-width="0.8"/>
<line x1="550.7" y1="304.3" x2="550.7" y2="305.2" stroke="#555" stroke-width="0.8"/>
<line x1="552.2" y1="302.2" x2="552.2" y2="305.2" stroke="#555" stroke-width="0.8"/>
<line x1="553.9" y1="303.6" x2="553.9" y2="305.2" stroke="#444" stroke-width="0.8"/>
<line x1="554.8" y1="304.0" x2="554.8" y2="305.2" stroke="#777" stroke-width="0.8"/>
<line x1="556.0" y1="304.5" x2="556.0" y2="305.2" stroke="#222" stroke-width="0.8"/>
<line x1="556.9" y1="304.6" x2="556.9" y2="305.2" stroke="#222" stroke-width="0.8"/>
<line x1="557.6" y1="304.6" x2="557.6" y2="305.2" stroke="#555" stroke-width="0.8"/>
<line x1="558.7" y1="304.2" x2="558.7" y2="305.2" stroke="#444" stroke-width="0.8"/>
<line x1="559.9" y1="304.5" x2="559.9" y2="305.2" stroke="#444" stroke-width="0.8"/>
<line x1="560" y1="304.1" x2="560" y2="305.2" stroke="#666" stroke-width="0.7"/>
<line x1="563.9" y1="304.6" x2="563.9" y2="305.2" stroke="#666" stroke-width="0.7"/>
<line x1="569.6" y1="304.5" x2="569.6" y2="305.2" stroke="#666" stroke-width="0.7"/>
<line x1="572.2" y1="304.6" x2="572.2" y2="305.2" stroke="#666" stroke-width="0.7"/>
<line x1="576.8" y1="303.8" x2="576.8" y2="305.2" stroke="#666" stroke-width="0.7"/>
<line x1="581.9" y1="304.3" x2="581.9" y2="305.2" stroke="#666" stroke-width="0.7"/>
<line x1="585.0" y1="304.7" x2="585.0" y2="305.2" stroke="#666" stroke-width="0.7"/>
<line x1="589.6" y1="304.1" x2="589.6" y2="305.2" stroke="#666" stroke-width="0.7"/>
<line x1="593.0" y1="304.1" x2="593.0" y2="305.2" stroke="#666" stroke-width="0.7"/>
<line x1="596.7" y1="303.8" x2="596.7" y2="305.2" stroke="#666" stroke-width="0.7"/>
<line x1="601.7" y1="304.5" x2="601.7" y2="305.2" stroke="#666" stroke-width="0.7"/>
<line x1="607.3" y1="304.7" x2="607.3" y2="305.2" stroke="#666" stroke-width="0.7"/>
<line x1="611.4" y1="304.3" x2="611.4" y2="305.2" stroke="#666" stroke-width="0.7"/>
<line x1="614.4" y1="304.6" x2="614.4" y2="305.2" stroke="#666" stroke-width="0.7"/>
<line x1="619.5" y1="304.7" x2="619.5" y2="305.2" stroke="#666" stroke-width="0.7"/>
<line x1="623.7" y1="303.8" x2="623.7" y2="305.2" stroke="#666" stroke-width="0.7"/>
<line x1="626.3" y1="304.5" x2="626.3" y2="305.2" stroke="#666" stroke-width="0.7"/>
<line x1="630.7" y1="304.2" x2="630.7" y2="305.2" stroke="#666" stroke-width="0.7"/>
<line x1="635.2" y1="303.9" x2="635.2" y2="305.2" stroke="#666" stroke-width="0.7"/>
<line x1="637.9" y1="304.4" x2="637.9" y2="305.2" stroke="#666" stroke-width="0.7"/>
<line x1="641.1" y1="304.7" x2="641.1" y2="305.2" stroke="#666" stroke-width="0.7"/>
<line x1="646.7" y1="303.9" x2="646.7" y2="305.2" stroke="#666" stroke-width="0.7"/>
<line x1="651.6" y1="304.7" x2="651.6" y2="305.2" stroke="#666" stroke-width="0.7"/>
<line x1="656.9" y1="304.0" x2="656.9" y2="305.2" stroke="#666" stroke-width="0.7"/>
<line x1="61.8" y1="266" x2="61.8" y2="305.2" stroke="#666" stroke-width="1"/>
<line x1="68.8" y1="295.3" x2="68.8" y2="305.2" stroke="#888" stroke-width="1"/>
<line x1="71.7" y1="296" x2="71.7" y2="305.2" stroke="#888" stroke-width="1"/>
<line x1="75.8" y1="32" x2="75.8" y2="305.2" stroke="#9a9a9a" stroke-width="1.4"/>
<line x1="75.9" y1="277" x2="75.9" y2="305.2" stroke="#555" stroke-width="1.4"/>
<line x1="84.0" y1="242.6" x2="84.0" y2="305.2" stroke="#666" stroke-width="1.3"/>
<line x1="84.2" y1="260.5" x2="84.2" y2="305.2" stroke="#444" stroke-width="1.3"/>
<line x1="85.4" y1="296" x2="85.4" y2="305.2" stroke="#aaa" stroke-width="1.2"/>
<line x1="84.6" y1="299" x2="84.6" y2="305.2" stroke="#111" stroke-width="2"/>
<line x1="98.3" y1="274.8" x2="98.3" y2="305.2" stroke="#666" stroke-width="1.1"/>
<line x1="107.9" y1="300" x2="107.9" y2="305.2" stroke="#777" stroke-width="1"/>
<line x1="114" y1="301" x2="114" y2="305.2" stroke="#888" stroke-width="1"/>
<line x1="116" y1="301" x2="116" y2="305.2" stroke="#888" stroke-width="1"/>
<line x1="119.8" y1="297.5" x2="119.8" y2="305.2" stroke="#777" stroke-width="1"/>
<line x1="123.8" y1="295.6" x2="123.8" y2="305.2" stroke="#777" stroke-width="1"/>
<line x1="129.2" y1="300" x2="129.2" y2="305.2" stroke="#777" stroke-width="1"/>
<line x1="132.7" y1="293" x2="132.7" y2="305.2" stroke="#777" stroke-width="1"/>
<line x1="138.2" y1="301" x2="138.2" y2="305.2" stroke="#888" stroke-width="1"/>
<line x1="144" y1="300.5" x2="144" y2="305.2" stroke="#888" stroke-width="1"/>
<line x1="147" y1="298" x2="147" y2="305.2" stroke="#777" stroke-width="1"/>
<line x1="152.3" y1="301" x2="152.3" y2="305.2" stroke="#888" stroke-width="1"/>
<line x1="180.7" y1="295" x2="180.7" y2="305.2" stroke="#777" stroke-width="1"/>
<line x1="185.3" y1="296.4" x2="185.3" y2="305.2" stroke="#555" stroke-width="1"/>
<line x1="194" y1="299" x2="194" y2="305.2" stroke="#777" stroke-width="1"/>
<line x1="199.4" y1="299.5" x2="199.4" y2="305.2" stroke="#777" stroke-width="1"/>
<line x1="201.5" y1="299" x2="201.5" y2="305.2" stroke="#777" stroke-width="1"/>
<line x1="212" y1="300" x2="212" y2="305.2" stroke="#888" stroke-width="1"/>
<line x1="219" y1="299.5" x2="219" y2="305.2" stroke="#888" stroke-width="1"/>
<line x1="228.3" y1="301" x2="228.3" y2="305.2" stroke="#888" stroke-width="1"/>
<line x1="233.2" y1="272.2" x2="233.2" y2="305.2" stroke="#777" stroke-width="1"/>
<line x1="238.9" y1="299.5" x2="238.9" y2="305.2" stroke="#888" stroke-width="1"/>
<line x1="247.3" y1="274.6" x2="247.3" y2="305.2" stroke="#666" stroke-width="1.1"/>
<line x1="247.3" y1="290.8" x2="247.3" y2="305.2" stroke="#222" stroke-width="1.2"/>
<line x1="250.5" y1="281.2" x2="250.5" y2="305.2" stroke="#888" stroke-width="1"/>
<line x1="263.8" y1="286.8" x2="263.8" y2="305.2" stroke="#666" stroke-width="1"/>
<line x1="266.8" y1="292" x2="266.8" y2="305.2" stroke="#888" stroke-width="1"/>
<line x1="276.8" y1="292" x2="276.8" y2="305.2" stroke="#888" stroke-width="1"/>
<line x1="285.5" y1="291.3" x2="285.5" y2="305.2" stroke="#888" stroke-width="1"/>
<line x1="289.9" y1="298.8" x2="289.9" y2="305.2" stroke="#777" stroke-width="1"/>
<line x1="299.4" y1="293" x2="299.4" y2="305.2" stroke="#777" stroke-width="1"/>
<line x1="308.6" y1="297" x2="308.6" y2="305.2" stroke="#888" stroke-width="1"/>
<line x1="313.3" y1="298" x2="313.3" y2="305.2" stroke="#888" stroke-width="1"/>
<line x1="320.7" y1="236.9" x2="320.7" y2="305.2" stroke="#666" stroke-width="1.2"/>
<line x1="320.9" y1="291.3" x2="320.9" y2="305.2" stroke="#222" stroke-width="1.3"/>
<line x1="323.7" y1="297" x2="323.7" y2="305.2" stroke="#888" stroke-width="1"/>
<line x1="338.2" y1="293" x2="338.2" y2="305.2" stroke="#777" stroke-width="1"/>
<line x1="363.8" y1="298.4" x2="363.8" y2="305.2" stroke="#888" stroke-width="1"/>
<line x1="370.5" y1="295" x2="370.5" y2="305.2" stroke="#777" stroke-width="1"/>
<line x1="372.9" y1="296.2" x2="372.9" y2="305.2" stroke="#777" stroke-width="1"/>
<line x1="385.3" y1="274.9" x2="385.3" y2="305.2" stroke="#666" stroke-width="1"/>
<line x1="385.3" y1="288.5" x2="385.3" y2="305.2" stroke="#222" stroke-width="1.2"/>
<line x1="388" y1="250.2" x2="388" y2="305.2" stroke="#666" stroke-width="1.1"/>
<line x1="395.3" y1="268.5" x2="395.3" y2="305.2" stroke="#666" stroke-width="1.1"/>
<line x1="404.5" y1="297.7" x2="404.5" y2="305.2" stroke="#888" stroke-width="1"/>
<line x1="409.7" y1="299" x2="409.7" y2="305.2" stroke="#888" stroke-width="1"/>
<line x1="419.2" y1="275.4" x2="419.2" y2="305.2" stroke="#666" stroke-width="1"/>
<line x1="424.3" y1="254.6" x2="424.3" y2="305.2" stroke="#555" stroke-width="1.1"/>
<line x1="424.3" y1="290" x2="424.3" y2="305.2" stroke="#222" stroke-width="1.2"/>
<line x1="434.2" y1="237.2" x2="434.2" y2="305.2" stroke="#555" stroke-width="1.1"/>
<line x1="434.2" y1="285" x2="434.2" y2="305.2" stroke="#222" stroke-width="1.3"/>
<line x1="448" y1="228.6" x2="448" y2="305.2" stroke="#666" stroke-width="1.1"/>
<line x1="448" y1="278.7" x2="448" y2="305.2" stroke="#222" stroke-width="1.3"/>
<line x1="463" y1="298" x2="463" y2="305.2" stroke="#888" stroke-width="1"/>
<line x1="479" y1="292.6" x2="479" y2="305.2" stroke="#666" stroke-width="1"/>
<line x1="494.3" y1="255.3" x2="494.3" y2="305.2" stroke="#777" stroke-width="1.1"/>
<line x1="494.3" y1="283" x2="494.3" y2="305.2" stroke="#222" stroke-width="1.3"/>
<line x1="505.4" y1="297.3" x2="505.4" y2="305.2" stroke="#777" stroke-width="1"/>
<line x1="509.9" y1="296.5" x2="509.9" y2="305.2" stroke="#777" stroke-width="1"/>
<line x1="513" y1="296" x2="513" y2="305.2" stroke="#777" stroke-width="1"/>
<line x1="519.7" y1="157.3" x2="519.7" y2="305.2" stroke="#8a8a8a" stroke-width="1.1"/>
<line x1="519.7" y1="243" x2="519.7" y2="305.2" stroke="#555" stroke-width="1.2"/>
<line x1="527.7" y1="238" x2="527.7" y2="305.2" stroke="#777" stroke-width="1.1"/>
<line x1="527.7" y1="276" x2="527.7" y2="305.2" stroke="#333" stroke-width="1.3"/>
<line x1="542.4" y1="9" x2="542.4" y2="305.2" stroke="#7a7a7a" stroke-width="1.4"/>
<line x1="542.5" y1="233.8" x2="542.5" y2="305.2" stroke="#555" stroke-width="1.6"/>
<line x1="542.8" y1="277" x2="542.8" y2="305.2" stroke="#111" stroke-width="2.0"/>
<line x1="558.2" y1="258.4" x2="558.2" y2="305.2" stroke="#888" stroke-width="1.2"/>
<line x1="558.2" y1="287" x2="558.2" y2="305.2" stroke="#555" stroke-width="1.8"/>
<line x1="72.9" y1="637.3" x2="72.9" y2="638.4" stroke="#555" stroke-width="0.8"/>
<line x1="75.1" y1="636.8" x2="75.1" y2="638.4" stroke="#555" stroke-width="0.8"/>
<line x1="91.0" y1="636.0" x2="91.0" y2="638.4" stroke="#555" stroke-width="0.8"/>
<line x1="95.4" y1="635.4" x2="95.4" y2="638.4" stroke="#555" stroke-width="0.8"/>
<line x1="97.0" y1="637.0" x2="97.0" y2="638.4" stroke="#555" stroke-width="0.8"/>
<line x1="104.4" y1="635.4" x2="104.4" y2="638.4" stroke="#555" stroke-width="0.8"/>
<line x1="106.9" y1="635.3" x2="106.9" y2="638.4" stroke="#555" stroke-width="0.8"/>
<line x1="126.3" y1="637.1" x2="126.3" y2="638.4" stroke="#555" stroke-width="0.8"/>
<line x1="129.7" y1="635.3" x2="129.7" y2="638.4" stroke="#555" stroke-width="0.8"/>
<line x1="131.6" y1="637.3" x2="131.6" y2="638.4" stroke="#555" stroke-width="0.8"/>
<line x1="135.9" y1="637.2" x2="135.9" y2="638.4" stroke="#555" stroke-width="0.8"/>
<line x1="137.5" y1="635.9" x2="137.5" y2="638.4" stroke="#555" stroke-width="0.8"/>
<line x1="144.6" y1="636.1" x2="144.6" y2="638.4" stroke="#555" stroke-width="0.8"/>
<line x1="158.9" y1="637.3" x2="158.9" y2="638.4" stroke="#555" stroke-width="0.8"/>
<line x1="170.8" y1="637.4" x2="170.8" y2="638.4" stroke="#555" stroke-width="0.8"/>
<line x1="174.6" y1="636.8" x2="174.6" y2="638.4" stroke="#555" stroke-width="0.8"/>
<line x1="177.3" y1="637.0" x2="177.3" y2="638.4" stroke="#555" stroke-width="0.8"/>
<line x1="182.3" y1="635.2" x2="182.3" y2="638.4" stroke="#555" stroke-width="0.8"/>
<line x1="188.7" y1="636.6" x2="188.7" y2="638.4" stroke="#555" stroke-width="0.8"/>
<line x1="197.1" y1="635.4" x2="197.1" y2="638.4" stroke="#555" stroke-width="0.8"/>
<line x1="200.9" y1="637.1" x2="200.9" y2="638.4" stroke="#555" stroke-width="0.8"/>
<line x1="218.4" y1="635.9" x2="218.4" y2="638.4" stroke="#555" stroke-width="0.8"/>
<line x1="221.4" y1="636.0" x2="221.4" y2="638.4" stroke="#555" stroke-width="0.8"/>
<line x1="237.0" y1="635.4" x2="237.0" y2="638.4" stroke="#555" stroke-width="0.8"/>
<line x1="238.6" y1="636.9" x2="238.6" y2="638.4" stroke="#555" stroke-width="0.8"/>
<line x1="257.0" y1="637.2" x2="257.0" y2="638.4" stroke="#555" stroke-width="0.8"/>
<line x1="264.8" y1="636.5" x2="264.8" y2="638.4" stroke="#555" stroke-width="0.8"/>
<line x1="274.6" y1="637.1" x2="274.6" y2="638.4" stroke="#555" stroke-width="0.8"/>
<line x1="281.1" y1="637.2" x2="281.1" y2="638.4" stroke="#555" stroke-width="0.8"/>
<line x1="283.3" y1="636.3" x2="283.3" y2="638.4" stroke="#555" stroke-width="0.8"/>
<line x1="285.3" y1="637.1" x2="285.3" y2="638.4" stroke="#555" stroke-width="0.8"/>
<line x1="305.4" y1="636.6" x2="305.4" y2="638.4" stroke="#555" stroke-width="0.8"/>
<line x1="316.7" y1="636.1" x2="316.7" y2="638.4" stroke="#555" stroke-width="0.8"/>
<line x1="329.7" y1="635.8" x2="329.7" y2="638.4" stroke="#555" stroke-width="0.8"/>
<line x1="343.8" y1="636.0" x2="343.8" y2="638.4" stroke="#555" stroke-width="0.8"/>
<line x1="352.8" y1="636.5" x2="352.8" y2="638.4" stroke="#555" stroke-width="0.8"/>
<line x1="362.7" y1="636.0" x2="362.7" y2="638.4" stroke="#555" stroke-width="0.8"/>
<line x1="401.4" y1="636.9" x2="401.4" y2="638.4" stroke="#555" stroke-width="0.8"/>
<line x1="404.1" y1="636.6" x2="404.1" y2="638.4" stroke="#555" stroke-width="0.8"/>
<line x1="409.4" y1="637.0" x2="409.4" y2="638.4" stroke="#555" stroke-width="0.8"/>
<line x1="416.2" y1="635.6" x2="416.2" y2="638.4" stroke="#555" stroke-width="0.8"/>
<line x1="418.9" y1="637.3" x2="418.9" y2="638.4" stroke="#555" stroke-width="0.8"/>
<line x1="429.3" y1="635.2" x2="429.3" y2="638.4" stroke="#555" stroke-width="0.8"/>
<line x1="438.7" y1="636.2" x2="438.7" y2="638.4" stroke="#555" stroke-width="0.8"/>
<line x1="449.8" y1="635.8" x2="449.8" y2="638.4" stroke="#555" stroke-width="0.8"/>
<line x1="452.1" y1="636.8" x2="452.1" y2="638.4" stroke="#555" stroke-width="0.8"/>
<line x1="465.1" y1="635.5" x2="465.1" y2="638.4" stroke="#555" stroke-width="0.8"/>
<line x1="474.7" y1="637.6" x2="474.7" y2="638.4" stroke="#555" stroke-width="0.8"/>
<line x1="481.3" y1="637.2" x2="481.3" y2="638.4" stroke="#555" stroke-width="0.8"/>
<line x1="486.0" y1="635.3" x2="486.0" y2="638.4" stroke="#555" stroke-width="0.8"/>
<line x1="489.9" y1="635.4" x2="489.9" y2="638.4" stroke="#555" stroke-width="0.8"/>
<line x1="511.7" y1="637.0" x2="511.7" y2="638.4" stroke="#555" stroke-width="0.8"/>
<line x1="524.3" y1="635.5" x2="524.3" y2="638.4" stroke="#555" stroke-width="0.8"/>
<line x1="537.7" y1="636.0" x2="537.7" y2="638.4" stroke="#555" stroke-width="0.8"/>
<line x1="541.2" y1="636.1" x2="541.2" y2="638.4" stroke="#555" stroke-width="0.8"/>
<line x1="554.4" y1="635.8" x2="554.4" y2="638.4" stroke="#555" stroke-width="0.8"/>
<line x1="557.8" y1="635.4" x2="557.8" y2="638.4" stroke="#555" stroke-width="0.8"/>
<line x1="63.0" y1="555.6" x2="63.0" y2="638.4" stroke="#111" stroke-width="2.0"/>
<line x1="64.8" y1="624.8" x2="64.8" y2="638.4" stroke="#999" stroke-width="1.2"/>
<line x1="68.2" y1="614.5" x2="68.2" y2="638.4" stroke="#999" stroke-width="1.2"/>
<line x1="68.2" y1="621.3" x2="68.2" y2="638.4" stroke="#111" stroke-width="1.1"/>
<line x1="62.5" y1="635.8" x2="62.5" y2="638.4" stroke="#111" stroke-width="3.5"/>
<line x1="86.2" y1="635" x2="86.2" y2="638.4" stroke="#555" stroke-width="1"/>
<line x1="92.4" y1="636" x2="92.4" y2="638.4" stroke="#555" stroke-width="1"/>
<line x1="98" y1="635" x2="98" y2="638.4" stroke="#555" stroke-width="1"/>
<line x1="100.3" y1="636" x2="100.3" y2="638.4" stroke="#555" stroke-width="1"/>
<line x1="116.3" y1="619.3" x2="116.3" y2="638.4" stroke="#444" stroke-width="1"/>
<line x1="117.6" y1="630.5" x2="117.6" y2="638.4" stroke="#222" stroke-width="1.2"/>
<line x1="119" y1="631.5" x2="119" y2="638.4" stroke="#444" stroke-width="1"/>
<line x1="134.7" y1="621.5" x2="134.7" y2="638.4" stroke="#111" stroke-width="1.5"/>
<line x1="146.6" y1="636" x2="146.6" y2="638.4" stroke="#555" stroke-width="1"/>
<line x1="163.1" y1="632.8" x2="163.1" y2="638.4" stroke="#333" stroke-width="1"/>
<line x1="166.3" y1="631.1" x2="166.3" y2="638.4" stroke="#333" stroke-width="1"/>
<line x1="195.3" y1="610.8" x2="195.3" y2="638.4" stroke="#111" stroke-width="1.3"/>
<line x1="194" y1="632" x2="194" y2="638.4" stroke="#333" stroke-width="1"/>
<line x1="196.5" y1="628.9" x2="196.5" y2="638.4" stroke="#222" stroke-width="1.2"/>
<line x1="198.5" y1="634" x2="198.5" y2="638.4" stroke="#444" stroke-width="1"/>
<line x1="213.1" y1="636" x2="213.1" y2="638.4" stroke="#555" stroke-width="1"/>
<line x1="220.2" y1="636" x2="220.2" y2="638.4" stroke="#555" stroke-width="1"/>
<line x1="230.6" y1="632.2" x2="230.6" y2="638.4" stroke="#333" stroke-width="1"/>
<line x1="237.6" y1="635" x2="237.6" y2="638.4" stroke="#333" stroke-width="1"/>
<line x1="241.7" y1="636.5" x2="241.7" y2="638.4" stroke="#555" stroke-width="1"/>
<line x1="254.3" y1="632.2" x2="254.3" y2="638.4" stroke="#333" stroke-width="1"/>
<line x1="261.4" y1="620" x2="261.4" y2="638.4" stroke="#222" stroke-width="1.1"/>
<line x1="262.8" y1="632.8" x2="262.8" y2="638.4" stroke="#111" stroke-width="1.3"/>
<line x1="264.5" y1="634.5" x2="264.5" y2="638.4" stroke="#333" stroke-width="1"/>
<line x1="293.5" y1="622.1" x2="293.5" y2="638.4" stroke="#222" stroke-width="1.1"/>
<line x1="342" y1="635" x2="342" y2="638.4" stroke="#555" stroke-width="1"/>
<line x1="347.2" y1="533.8" x2="347.2" y2="638.4" stroke="#444" stroke-width="1.5"/>
<line x1="347.2" y1="547.5" x2="347.2" y2="638.4" stroke="#222" stroke-width="1.6"/>
<line x1="349.0" y1="584.3" x2="349.0" y2="638.4" stroke="#999" stroke-width="1.2"/>
<line x1="350.6" y1="627.6" x2="350.6" y2="638.4" stroke="#888" stroke-width="1.4"/>
<line x1="350.0" y1="632.6" x2="350.0" y2="638.4" stroke="#111" stroke-width="2.8"/>
<line x1="343.5" y1="634" x2="343.5" y2="638.4" stroke="#444" stroke-width="1"/>
<line x1="361.7" y1="634" x2="361.7" y2="638.4" stroke="#333" stroke-width="1"/>
<line x1="363.7" y1="628.1" x2="363.7" y2="638.4" stroke="#333" stroke-width="1"/>
<line x1="365.2" y1="624.7" x2="365.2" y2="638.4" stroke="#444" stroke-width="1"/>
<line x1="366.7" y1="630.6" x2="366.7" y2="638.4" stroke="#222" stroke-width="1"/>
<line x1="368.6" y1="634.5" x2="368.6" y2="638.4" stroke="#333" stroke-width="1"/>
<line x1="394.3" y1="631.6" x2="394.3" y2="638.4" stroke="#333" stroke-width="1"/>
<line x1="395.8" y1="620.2" x2="395.8" y2="638.4" stroke="#333" stroke-width="1.1"/>
<line x1="397.6" y1="350.2" x2="397.6" y2="638.4" stroke="#555" stroke-width="1.3"/>
<line x1="399.2" y1="584.2" x2="399.2" y2="638.4" stroke="#999" stroke-width="1.2"/>
<line x1="399.4" y1="623.2" x2="399.4" y2="638.4" stroke="#222" stroke-width="1.1"/>
<line x1="400.7" y1="625.6" x2="400.7" y2="638.4" stroke="#333" stroke-width="1"/>
<line x1="401.7" y1="628.6" x2="401.7" y2="638.4" stroke="#444" stroke-width="1"/>
<line x1="430.0" y1="578.2" x2="430.0" y2="638.4" stroke="#333" stroke-width="1.3"/>
<line x1="431.2" y1="625.4" x2="431.2" y2="638.4" stroke="#999" stroke-width="1.3"/>
<line x1="429" y1="634" x2="429" y2="638.4" stroke="#222" stroke-width="1"/>
<line x1="452.3" y1="636" x2="452.3" y2="638.4" stroke="#444" stroke-width="1"/>
<line x1="456.7" y1="637" x2="456.7" y2="638.4" stroke="#555" stroke-width="1"/>
<line x1="483.7" y1="634.9" x2="483.7" y2="638.4" stroke="#555" stroke-width="1"/>
<line x1="490.4" y1="634.3" x2="490.4" y2="638.4" stroke="#555" stroke-width="1"/>
<line x1="497.9" y1="629.8" x2="497.9" y2="638.4" stroke="#888" stroke-width="1"/>
<line x1="545.8" y1="634.3" x2="545.8" y2="638.4" stroke="#555" stroke-width="1"/>
<line x1="622.6" y1="636.6" x2="622.6" y2="638.4" stroke="#555" stroke-width="1"/>
<line x1="105.60" y1="52.20" x2="79.71" y2="33.23" stroke="#30a968" stroke-width="1.35" stroke-dasharray="3 1.6"/>
<polyline points="83.34,43.40 78.10,32.05 90.50,33.62" fill="none" stroke="#30a968" stroke-width="1.6" stroke-linejoin="round" stroke-linecap="round"/>
<line x1="573.90" y1="32.20" x2="546.79" y2="11.42" stroke="#30a968" stroke-width="1.35" stroke-dasharray="3 1.6"/>
<polyline points="550.19,21.66 545.20,10.20 557.56,12.04" fill="none" stroke="#30a968" stroke-width="1.6" stroke-linejoin="round" stroke-linecap="round"/>
<line x1="518.60" y1="88.20" x2="527.58" y2="233.50" stroke="#30a968" stroke-width="1.35" stroke-dasharray="3 1.6"/>
<polyline points="533.07,224.21 527.70,235.50 520.98,224.96" fill="none" stroke="#30a968" stroke-width="1.6" stroke-linejoin="round" stroke-linecap="round"/>
<line x1="501.70" y1="124.50" x2="517.88" y2="155.53" stroke="#30a968" stroke-width="1.35" stroke-dasharray="3 1.6"/>
<polyline points="519.12,144.80 518.80,157.30 508.37,150.41" fill="none" stroke="#30a968" stroke-width="1.6" stroke-linejoin="round" stroke-linecap="round"/>
<line x1="381.10" y1="96.40" x2="394.64" y2="262.81" stroke="#30a968" stroke-width="1.35" stroke-dasharray="3 1.6"/>
<polyline points="399.95,253.41 394.80,264.80 387.87,254.39" fill="none" stroke="#30a968" stroke-width="1.6" stroke-linejoin="round" stroke-linecap="round"/>
<line x1="448.20" y1="130.90" x2="448.00" y2="223.90" stroke="#30a968" stroke-width="1.35" stroke-dasharray="3 1.6"/>
<polyline points="454.08,214.98 448.00,225.90 441.96,214.95" fill="none" stroke="#30a968" stroke-width="1.6" stroke-linejoin="round" stroke-linecap="round"/>
<line x1="213.60" y1="161.00" x2="246.42" y2="270.28" stroke="#30a968" stroke-width="1.35" stroke-dasharray="3 1.6"/>
<polyline points="249.66,259.99 247.00,272.20 238.05,263.47" fill="none" stroke="#30a968" stroke-width="1.6" stroke-linejoin="round" stroke-linecap="round"/>
<line x1="418.30" y1="161.90" x2="433.77" y2="232.05" stroke="#dc2b2b" stroke-width="1.35" stroke-dasharray="3 1.6"/>
<polyline points="437.76,222.02 434.20,234.00 425.93,224.63" fill="none" stroke="#dc2b2b" stroke-width="1.6" stroke-linejoin="round" stroke-linecap="round"/>
<line x1="370.30" y1="162.20" x2="387.59" y2="244.64" stroke="#30a968" stroke-width="1.35" stroke-dasharray="3 1.6"/>
<polyline points="391.69,234.66 388.00,246.60 379.82,237.14" fill="none" stroke="#30a968" stroke-width="1.6" stroke-linejoin="round" stroke-linecap="round"/>
<line x1="345.60" y1="184.00" x2="338.34" y2="287.50" stroke="#dc2b2b" stroke-width="1.35" stroke-dasharray="3 1.6"/>
<polyline points="345.01,279.02 338.20,289.50 332.92,278.17" fill="none" stroke="#dc2b2b" stroke-width="1.6" stroke-linejoin="round" stroke-linecap="round"/>
<line x1="484.30" y1="199.90" x2="493.54" y2="250.13" stroke="#30a968" stroke-width="1.35" stroke-dasharray="3 1.6"/>
<polyline points="497.88,240.25 493.90,252.10 485.96,242.44" fill="none" stroke="#30a968" stroke-width="1.6" stroke-linejoin="round" stroke-linecap="round"/>
<line x1="94.70" y1="203.30" x2="85.62" y2="236.97" stroke="#30a968" stroke-width="1.35" stroke-dasharray="3 1.6"/>
<polyline points="93.80,229.92 85.10,238.90 82.10,226.77" fill="none" stroke="#30a968" stroke-width="1.6" stroke-linejoin="round" stroke-linecap="round"/>
<line x1="312.00" y1="214.20" x2="319.26" y2="232.44" stroke="#30a968" stroke-width="1.35" stroke-dasharray="3 1.6"/>
<polyline points="321.59,221.90 320.00,234.30 310.33,226.38" fill="none" stroke="#30a968" stroke-width="1.6" stroke-linejoin="round" stroke-linecap="round"/>
<line x1="568.00" y1="224.50" x2="558.78" y2="254.79" stroke="#30a968" stroke-width="1.35" stroke-dasharray="3 1.6"/>
<polyline points="567.18,248.01 558.20,256.70 555.59,244.48" fill="none" stroke="#30a968" stroke-width="1.6" stroke-linejoin="round" stroke-linecap="round"/>
<line x1="414.30" y1="221.00" x2="423.40" y2="250.09" stroke="#30a968" stroke-width="1.35" stroke-dasharray="3 1.6"/>
<polyline points="426.52,239.76 424.00,252.00 414.95,243.38" fill="none" stroke="#30a968" stroke-width="1.6" stroke-linejoin="round" stroke-linecap="round"/>
<line x1="376.50" y1="234.70" x2="384.27" y2="270.15" stroke="#30a968" stroke-width="1.35" stroke-dasharray="3 1.6"/>
<polyline points="388.28,260.12 384.70,272.10 376.44,262.72" fill="none" stroke="#30a968" stroke-width="1.6" stroke-linejoin="round" stroke-linecap="round"/>
<line x1="107.90" y1="237.00" x2="99.20" y2="270.46" stroke="#30a968" stroke-width="1.35" stroke-dasharray="3 1.6"/>
<polyline points="107.32,263.34 98.70,272.40 95.58,260.29" fill="none" stroke="#30a968" stroke-width="1.6" stroke-linejoin="round" stroke-linecap="round"/>
<line x1="290.20" y1="255.30" x2="298.91" y2="290.16" stroke="#30a968" stroke-width="1.35" stroke-dasharray="3 1.6"/>
<polyline points="302.63,280.02 299.40,292.10 290.87,282.96" fill="none" stroke="#30a968" stroke-width="1.6" stroke-linejoin="round" stroke-linecap="round"/>
<line x1="365.60" y1="263.90" x2="368.95" y2="290.22" stroke="#30a968" stroke-width="1.35" stroke-dasharray="3 1.6"/>
<polyline points="373.83,280.59 369.20,292.20 361.81,282.12" fill="none" stroke="#30a968" stroke-width="1.6" stroke-linejoin="round" stroke-linecap="round"/>
<line x1="469.40" y1="259.60" x2="478.39" y2="287.50" stroke="#30a968" stroke-width="1.35" stroke-dasharray="3 1.6"/>
<polyline points="481.42,277.14 479.00,289.40 469.88,280.85" fill="none" stroke="#30a968" stroke-width="1.6" stroke-linejoin="round" stroke-linecap="round"/>
<line x1="425.70" y1="372.80" x2="401.83" y2="352.69" stroke="#30a968" stroke-width="1.35" stroke-dasharray="3 1.6"/>
<polyline points="404.76,363.08 400.30,351.40 412.57,353.81" fill="none" stroke="#30a968" stroke-width="1.6" stroke-linejoin="round" stroke-linecap="round"/>
<line x1="338.20" y1="487.40" x2="346.41" y2="528.84" stroke="#30a968" stroke-width="1.35" stroke-dasharray="3 1.6"/>
<polyline points="350.62,518.90 346.80,530.80 338.73,521.25" fill="none" stroke="#30a968" stroke-width="1.6" stroke-linejoin="round" stroke-linecap="round"/>
<line x1="73.30" y1="495.30" x2="64.71" y2="550.22" stroke="#30a968" stroke-width="1.35" stroke-dasharray="3 1.6"/>
<polyline points="72.08,542.34 64.40,552.20 60.10,540.46" fill="none" stroke="#30a968" stroke-width="1.6" stroke-linejoin="round" stroke-linecap="round"/>
<line x1="143.60" y1="524.40" x2="162.54" y2="629.13" stroke="#30a968" stroke-width="1.35" stroke-dasharray="3 1.6"/>
<polyline points="166.92,619.26 162.90,631.10 154.99,621.42" fill="none" stroke="#30a968" stroke-width="1.6" stroke-linejoin="round" stroke-linecap="round"/>
<line x1="187.70" y1="501.10" x2="166.63" y2="626.93" stroke="#dc2b2b" stroke-width="1.35" stroke-dasharray="3 1.6"/>
<polyline points="174.08,619.12 166.30,628.90 162.13,617.12" fill="none" stroke="#dc2b2b" stroke-width="1.6" stroke-linejoin="round" stroke-linecap="round"/>
<line x1="79.50" y1="560.50" x2="68.63" y2="609.85" stroke="#30a968" stroke-width="1.35" stroke-dasharray="3 1.6"/>
<polyline points="76.47,602.43 68.20,611.80 64.63,599.82" fill="none" stroke="#30a968" stroke-width="1.6" stroke-linejoin="round" stroke-linecap="round"/>
<line x1="439.50" y1="544.00" x2="430.29" y2="573.99" stroke="#30a968" stroke-width="1.35" stroke-dasharray="3 1.6"/>
<polyline points="438.70,567.23 429.70,575.90 427.12,563.67" fill="none" stroke="#30a968" stroke-width="1.6" stroke-linejoin="round" stroke-linecap="round"/>
<line x1="205.90" y1="548.70" x2="196.52" y2="606.53" stroke="#30a968" stroke-width="1.35" stroke-dasharray="3 1.6"/>
<polyline points="203.93,598.68 196.20,608.50 191.97,596.74" fill="none" stroke="#30a968" stroke-width="1.6" stroke-linejoin="round" stroke-linecap="round"/>
<line x1="124.10" y1="570.60" x2="133.98" y2="617.14" stroke="#30a968" stroke-width="1.35" stroke-dasharray="3 1.6"/>
<polyline points="138.06,607.15 134.40,619.10 126.20,609.66" fill="none" stroke="#30a968" stroke-width="1.6" stroke-linejoin="round" stroke-linecap="round"/>
<line x1="252.30" y1="572.40" x2="261.19" y2="615.04" stroke="#30a968" stroke-width="1.35" stroke-dasharray="3 1.6"/>
<polyline points="265.30,605.06 261.60,617.00 253.44,607.53" fill="none" stroke="#30a968" stroke-width="1.6" stroke-linejoin="round" stroke-linecap="round"/>
<line x1="303.40" y1="573.90" x2="293.93" y2="616.55" stroke="#30a968" stroke-width="1.35" stroke-dasharray="3 1.6"/>
<polyline points="301.79,609.14 293.50,618.50 289.95,606.51" fill="none" stroke="#30a968" stroke-width="1.6" stroke-linejoin="round" stroke-linecap="round"/>
<line x1="385.50" y1="572.80" x2="394.39" y2="615.04" stroke="#30a968" stroke-width="1.35" stroke-dasharray="3 1.6"/>
<polyline points="398.48,605.05 394.80,617.00 386.62,607.55" fill="none" stroke="#30a968" stroke-width="1.6" stroke-linejoin="round" stroke-linecap="round"/>
<text transform="translate(106.63,58.10) scale(0.857,1)" font-size="14.4" stroke="#000" stroke-width="0.42"><tspan>F</tspan></text>
<text transform="translate(575.76,36.60) scale(0.971,1)" font-size="14.4" stroke="#000" stroke-width="0.42"><tspan>y</tspan><tspan font-size="10.2" dy="3.8">6</tspan></text>
<text transform="translate(500.46,81.80) scale(0.980,1)" font-size="14.4" stroke="#000" stroke-width="0.42"><tspan>y</tspan><tspan font-size="10.2" dy="3.8">6</tspan><tspan dy="-3.8">-H</tspan><tspan font-size="10.2" dy="3.8">2</tspan><tspan dy="-3.8">O</tspan></text>
<text transform="translate(353.59,95.10) scale(0.947,1)" font-size="14.4" stroke="#000" stroke-width="0.42"><tspan>GERAL-28</tspan></text>
<text transform="translate(496.40,121.80) scale(1.004,1)" font-size="14.4" stroke="#000" stroke-width="0.42"><tspan>a</tspan><tspan font-size="10.2" dy="3.8">6</tspan></text>
<text transform="translate(440.94,128.60) scale(1.061,1)" font-size="14.4" stroke="#000" stroke-width="0.42"><tspan>b</tspan><tspan font-size="10.2" dy="3.8">5</tspan></text>
<text transform="translate(191.08,159.80) scale(1.018,1)" font-size="14.4" stroke="#000" stroke-width="0.42"><tspan>[a</tspan><tspan font-size="10.2" dy="3.8">6</tspan><tspan dy="-3.8">+2H]</tspan><tspan font-size="9.0" dy="-4.9">2+</tspan></text>
<text transform="translate(393.83,160.20) scale(1.067,1)" font-size="14.4" stroke="#000" stroke-width="0.42"><tspan>[b</tspan><tspan font-size="10.2" dy="3.8">6</tspan><tspan dy="-3.8">3]b</tspan><tspan font-size="10.2" dy="3.8">5</tspan></text>
<text transform="translate(363.34,160.20) scale(1.064,1)" font-size="14.4" stroke="#000" stroke-width="0.42"><tspan>b</tspan><tspan font-size="10.2" dy="3.8">4</tspan></text>
<text transform="translate(320.63,178.00) scale(1.074,1)" font-size="14.4" stroke="#000" stroke-width="0.42"><tspan>[b</tspan><tspan font-size="10.2" dy="3.8">5</tspan><tspan dy="-3.8">3]b</tspan><tspan font-size="10.2" dy="3.8">4</tspan></text>
<text transform="translate(478.76,197.40) scale(0.955,1)" font-size="14.4" stroke="#000" stroke-width="0.42"><tspan>y</tspan><tspan font-size="10.2" dy="3.8">5</tspan></text>
<text transform="translate(78.85,204.20) scale(0.991,1)" font-size="14.4" stroke="#000" stroke-width="0.42"><tspan>y</tspan><tspan font-size="10.2" dy="3.8">1</tspan><tspan dy="-3.8">-NH</tspan><tspan font-size="10.2" dy="3.8">3</tspan></text>
<text transform="translate(275.93,212.20) scale(1.071,1)" font-size="14.4" stroke="#000" stroke-width="0.42"><tspan>[M+2H]</tspan><tspan font-size="9.0" dy="-4.9">2+</tspan></text>
<text transform="translate(548.01,222.80) scale(0.995,1)" font-size="14.4" stroke="#000" stroke-width="0.42"><tspan>b</tspan><tspan font-size="10.2" dy="3.8">6</tspan><tspan dy="-3.8">+H</tspan><tspan font-size="10.2" dy="3.8">2</tspan><tspan dy="-3.8">O</tspan></text>
<text transform="translate(409.83,220.20) scale(0.933,1)" font-size="14.4" stroke="#000" stroke-width="0.42"><tspan>a</tspan><tspan font-size="10.2" dy="3.8">5</tspan></text>
<text transform="translate(370.25,231.00) scale(1.012,1)" font-size="14.4" stroke="#000" stroke-width="0.42"><tspan>y</tspan><tspan font-size="10.2" dy="3.8">4</tspan></text>
<text transform="translate(102.68,233.60) scale(0.882,1)" font-size="14.4" stroke="#000" stroke-width="0.42"><tspan>y</tspan><tspan font-size="10.2" dy="3.8">1</tspan></text>
<text transform="translate(257.69,254.60) scale(0.951,1)" font-size="14.4" stroke="#000" stroke-width="0.42"><tspan>GERA-28</tspan></text>
<text transform="translate(333.05,253.00) scale(0.993,1)" font-size="14.4" stroke="#000" stroke-width="0.42"><tspan>y</tspan><tspan font-size="10.2" dy="3.8">4</tspan><tspan dy="-3.8">-NH</tspan><tspan font-size="10.2" dy="3.8">3</tspan></text>
<text transform="translate(449.26,258.20) scale(0.972,1)" font-size="14.4" stroke="#000" stroke-width="0.42"><tspan>y</tspan><tspan font-size="10.2" dy="3.8">5</tspan><tspan dy="-3.8">-NH</tspan><tspan font-size="10.2" dy="3.8">3</tspan></text>
<text transform="translate(66.16,489.00) scale(0.955,1)" font-size="14.4" stroke="#000" stroke-width="0.42"><tspan>y</tspan><tspan font-size="10.2" dy="3.8">4</tspan></text>
<text transform="translate(332.60,484.40) scale(0.996,1)" font-size="14.4" stroke="#000" stroke-width="0.42"><tspan>a</tspan><tspan font-size="10.2" dy="3.8">6</tspan></text>
<text transform="translate(426.30,379.50) scale(1.102,1)" font-size="14.4" stroke="#000" stroke-width="0.42"><tspan>b</tspan><tspan font-size="10.2" dy="3.8">6</tspan></text>
<text transform="translate(122.49,519.50) scale(1.009,1)" font-size="14.4" stroke="#000" stroke-width="0.42"><tspan>b</tspan><tspan font-size="10.2" dy="3.8">5</tspan><tspan dy="-3.8">-H</tspan><tspan font-size="10.2" dy="3.8">2</tspan><tspan dy="-3.8">O</tspan></text>
<text transform="translate(167.22,496.00) scale(1.081,1)" font-size="14.4" stroke="#000" stroke-width="0.42"><tspan>[b</tspan><tspan font-size="10.2" dy="3.8">6</tspan><tspan dy="-3.8">3]b</tspan><tspan font-size="10.2" dy="3.8">5</tspan></text>
<text transform="translate(74.96,556.00) scale(1.040,1)" font-size="14.4" stroke="#000" stroke-width="0.42"><tspan>b</tspan><tspan font-size="10.2" dy="3.8">4</tspan></text>
<text transform="translate(420.21,539.40) scale(0.991,1)" font-size="14.4" stroke="#000" stroke-width="0.42"><tspan>b</tspan><tspan font-size="10.2" dy="3.8">6</tspan><tspan dy="-3.8">+H</tspan><tspan font-size="10.2" dy="3.8">2</tspan><tspan dy="-3.8">O</tspan></text>
<text transform="translate(199.25,545.60) scale(1.053,1)" font-size="14.4" stroke="#000" stroke-width="0.42"><tspan>b</tspan><tspan font-size="10.2" dy="3.8">5</tspan></text>
<text transform="translate(102.55,568.40) scale(0.863,1)" font-size="14.4" stroke="#000" stroke-width="0.42"><tspan>GERAL</tspan></text>
<text transform="translate(234.95,568.60) scale(0.986,1)" font-size="14.4" stroke="#000" stroke-width="0.42"><tspan>y</tspan><tspan font-size="10.2" dy="3.8">5</tspan><tspan dy="-3.8">-H</tspan><tspan font-size="10.2" dy="3.8">2</tspan><tspan dy="-3.8">O</tspan></text>
<text transform="translate(298.17,569.60) scale(0.931,1)" font-size="14.4" stroke="#000" stroke-width="0.42"><tspan>y</tspan><tspan font-size="10.2" dy="3.8">5</tspan></text>
<text transform="translate(380.96,567.80) scale(0.963,1)" font-size="14.4" stroke="#000" stroke-width="0.42"><tspan>y</tspan><tspan font-size="10.2" dy="3.8">6</tspan></text>
<text transform="translate(684.89,321.60) scale(1.011,1)" font-size="13.6" stroke="#000" stroke-width="0.3"><tspan>m</tspan></text>
<text transform="translate(702.25,321.60) scale(0.909,1)" font-size="13.6" stroke="#000" stroke-width="0.3"><tspan>z</tspan></text>
<text transform="translate(657.90,653.10) scale(1.100,1)" font-size="14.4" stroke="#000" stroke-width="0.3"><tspan>m</tspan></text>
<text transform="translate(677.71,653.10) scale(0.983,1)" font-size="14.4" stroke="#000" stroke-width="0.3"><tspan>z</tspan></text>
<text x="82.6" y="321.9" font-size="13.4" text-anchor="middle" stroke="#000" stroke-width="0.3">125</text>
<text x="121.5" y="321.9" font-size="13.4" text-anchor="middle" stroke="#000" stroke-width="0.3">175</text>
<text x="164.3" y="321.9" font-size="13.4" text-anchor="middle" stroke="#000" stroke-width="0.3">225</text>
<text x="207.4" y="321.9" font-size="13.4" text-anchor="middle" stroke="#000" stroke-width="0.3">275</text>
<text x="250.5" y="321.9" font-size="13.4" text-anchor="middle" stroke="#000" stroke-width="0.3">325</text>
<text x="290.0" y="321.9" font-size="13.4" text-anchor="middle" stroke="#000" stroke-width="0.3">375</text>
<text x="332.6" y="321.9" font-size="13.4" text-anchor="middle" stroke="#000" stroke-width="0.3">425</text>
<text x="376.0" y="321.9" font-size="13.4" text-anchor="middle" stroke="#000" stroke-width="0.3">475</text>
<text x="419.6" y="321.9" font-size="13.4" text-anchor="middle" stroke="#000" stroke-width="0.3">525</text>
<text x="462.0" y="321.9" font-size="13.4" text-anchor="middle" stroke="#000" stroke-width="0.3">575</text>
<text x="504.6" y="321.9" font-size="13.4" text-anchor="middle" stroke="#000" stroke-width="0.3">625</text>
<text x="545.0" y="321.9" font-size="13.4" text-anchor="middle" stroke="#000" stroke-width="0.3">675</text>
<text x="587.4" y="321.9" font-size="13.4" text-anchor="middle" stroke="#000" stroke-width="0.3">725</text>
<text x="627.4" y="321.9" font-size="13.4" text-anchor="middle" stroke="#000" stroke-width="0.3">775</text>
<text x="666.0" y="321.9" font-size="13.4" text-anchor="middle" stroke="#000" stroke-width="0.3">825</text>
<line x1="696.8" y1="322.6" x2="701.1" y2="311.6" stroke="#000" stroke-width="1.4"/>
<text x="85.5" y="652.9" font-size="13.4" text-anchor="middle" stroke="#000" stroke-width="0.3">500</text>
<text x="176.3" y="652.9" font-size="13.4" text-anchor="middle" stroke="#000" stroke-width="0.3">550</text>
<text x="264.9" y="652.9" font-size="13.4" text-anchor="middle" stroke="#000" stroke-width="0.3">600</text>
<text x="355.6" y="652.9" font-size="13.4" text-anchor="middle" stroke="#000" stroke-width="0.3">650</text>
<text x="444.3" y="652.9" font-size="13.4" text-anchor="middle" stroke="#000" stroke-width="0.3">700</text>
<text x="534.5" y="652.9" font-size="13.4" text-anchor="middle" stroke="#000" stroke-width="0.3">750</text>
<text x="623.9" y="652.9" font-size="13.4" text-anchor="middle" stroke="#000" stroke-width="0.3">800</text>
<line x1="671.6" y1="655.1" x2="676.9" y2="641.7" stroke="#000" stroke-width="1.5"/>
<text x="54.4" y="15.9" font-size="13.4" text-anchor="end" stroke="#000" stroke-width="0.3">100</text>
<text x="55.2" y="164.1" font-size="13.4" text-anchor="end" stroke="#000" stroke-width="0.3">%</text>
<text x="54.2" y="310.7" font-size="13.4" text-anchor="end" stroke="#000" stroke-width="0.3">0</text>
<text x="53.2" y="349.9" font-size="13.4" text-anchor="end" stroke="#000" stroke-width="0.3">100</text>
<text x="53.8" y="501.0" font-size="13.4" text-anchor="end" stroke="#000" stroke-width="0.3">%</text>
<text x="51.8" y="646.6" font-size="13.4" text-anchor="end" stroke="#000" stroke-width="0.3">0</text>
<text x="0.2" y="16.6" font-size="21" font-weight="bold" stroke="#000" stroke-width="0.5">(a)</text>
<text x="0.0" y="350.2" font-size="21" font-weight="bold" stroke="#000" stroke-width="0.5">(b)</text>
</svg></body></html>
